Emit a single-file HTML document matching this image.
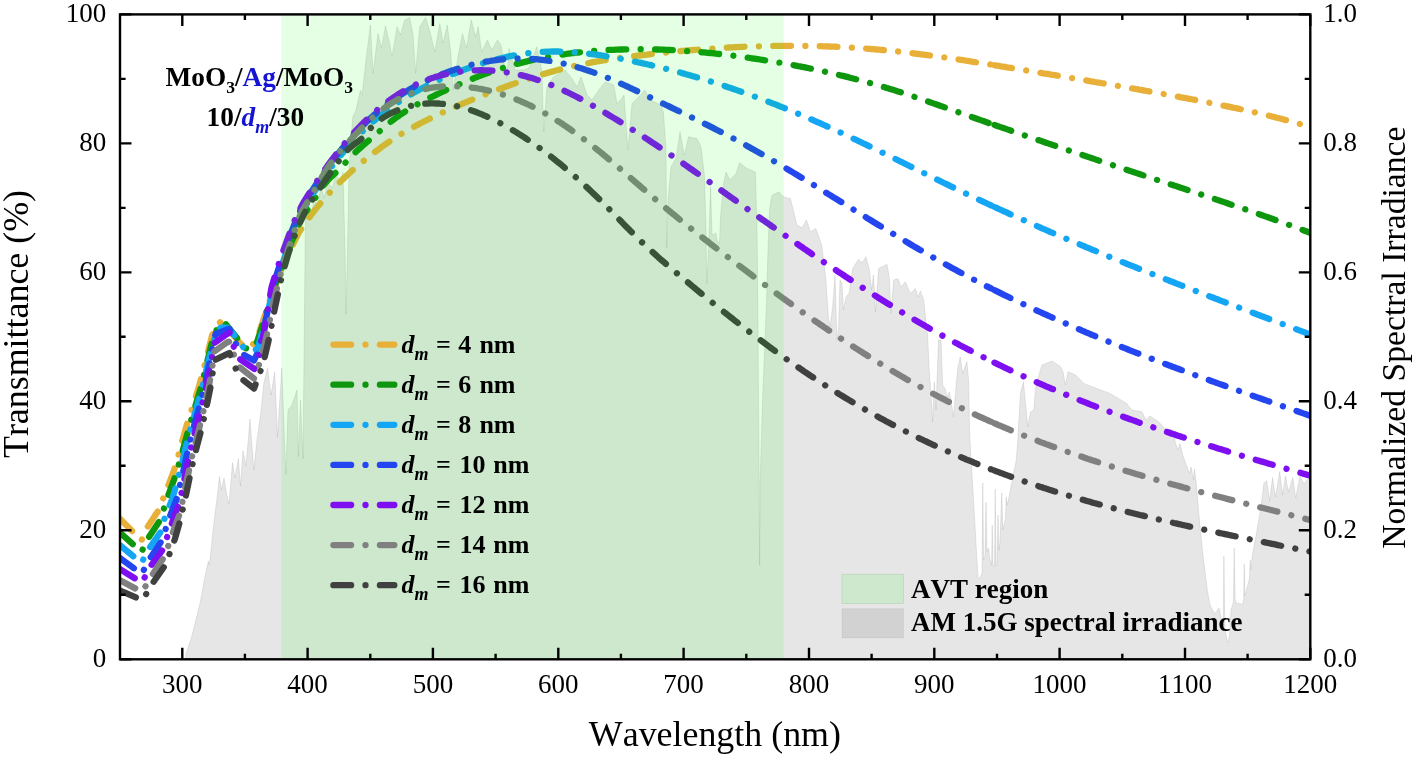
<!DOCTYPE html>
<html><head><meta charset="utf-8"><title>Transmittance spectra</title>
<style>html,body{margin:0;padding:0;background:#fff}svg{display:block}text{font-family:"Liberation Serif",serif;fill:#000;font-kerning:none}</style></head><body>
<svg width="1416" height="760" viewBox="0 0 1416 760">
<rect width="1416" height="760" fill="#fff"/>
<polygon points="185.5,659.3 186.0,654.0 191.8,636.0 199.7,604.8 205.7,573.0 208.4,561.0 209.5,565.0 213.5,525.8 217.5,494.0 219.5,476.5 221.4,490.0 224.0,478.0 226.6,494.0 229.0,504.0 232.5,462.6 235.0,478.0 238.4,458.7 240.4,486.0 243.0,450.8 246.0,466.0 250.0,419.0 253.8,470.0 257.0,440.0 261.0,411.0 263.7,383.7 267.6,368.0 271.0,395.0 274.7,372.0 277.5,437.0 281.8,368.0 285.8,474.5 288.0,410.0 292.0,405.0 297.0,390.0 298.4,456.7 300.5,400.0 303.0,458.7 305.5,212.0 308.0,205.0 311.0,215.0 314.0,200.0 318.0,205.0 321.0,185.0 324.0,198.0 328.0,182.0 332.0,188.0 336.0,175.0 340.0,182.0 343.0,172.0 345.0,250.0 346.0,314.0 347.5,250.0 349.0,170.0 351.0,140.0 352.8,117.0 356.0,110.0 360.4,90.3 362.0,95.0 366.0,60.0 370.4,25.0 373.0,73.5 378.0,33.4 381.5,48.0 385.5,26.0 389.5,43.0 392.0,56.8 397.0,26.7 400.5,35.0 404.7,20.0 409.7,17.5 413.0,35.0 415.6,73.5 419.7,26.7 425.6,17.5 430.0,32.0 434.8,51.8 439.8,23.4 443.0,43.0 447.3,25.0 450.7,51.8 453.2,90.0 457.5,60.0 462.4,33.4 466.5,48.0 471.2,20.0 475.7,37.0 478.2,26.7 481.6,51.8 487.5,40.0 491.7,50.0 497.5,40.0 501.0,45.0 506.7,78.5 509.0,48.4 515.0,70.0 523.4,70.0 529.0,68.0 536.8,46.8 541.8,70.0 543.8,132.0 546.9,87.0 553.5,76.9 565.0,70.0 572.0,78.5 577.0,87.0 581.0,76.8 587.0,95.0 592.0,100.0 598.7,90.0 605.4,81.9 613.7,85.0 617.0,103.6 622.0,98.0 624.0,95.0 628.0,150.0 632.0,103.6 640.5,95.0 644.7,90.0 650.5,100.0 660.6,105.0 663.4,111.7 666.0,150.0 666.7,248.5 668.0,200.0 671.0,167.0 676.0,158.0 680.0,131.8 684.3,155.0 688.5,136.8 696.9,138.5 701.0,146.8 704.4,175.0 706.0,227.0 706.8,283.6 708.5,250.0 710.6,187.0 712.0,235.0 716.0,233.0 717.0,240.0 719.5,243.5 720.5,217.0 723.6,183.6 726.0,172.0 730.0,180.0 736.0,173.6 739.5,162.7 747.0,168.6 755.4,172.0 757.0,227.0 757.8,300.0 758.5,400.0 759.2,480.0 759.6,565.0 760.2,480.0 762.5,400.0 765.0,340.0 766.6,300.0 768.0,250.0 769.6,208.7 772.0,195.3 778.8,192.0 783.8,197.0 790.5,198.7 792.0,205.0 797.0,225.0 802.0,228.0 806.4,220.0 810.5,232.0 815.6,228.4 817.5,233.3 821.7,245.0 825.9,280.0 828.4,317.0 830.0,327.0 832.6,307.0 835.0,275.0 837.0,340.0 838.5,330.0 840.0,280.0 842.0,283.0 843.4,310.0 846.0,297.0 849.3,293.0 852.6,268.5 858.5,259.3 862.0,263.0 866.0,256.8 869.4,270.0 871.5,290.0 873.5,275.0 875.5,312.0 878.6,268.5 887.0,264.3 889.4,278.5 891.0,313.6 893.6,280.0 897.8,278.5 901.0,287.0 905.3,281.8 910.3,293.5 915.4,288.5 918.0,297.0 920.4,291.0 923.7,300.0 926.2,323.6 927.6,335.0 929.3,371.8 931.0,393.5 932.6,422.0 934.3,381.8 936.0,410.0 938.5,340.0 941.0,340.0 942.6,385.0 945.0,388.5 947.0,397.0 949.3,392.0 951.0,400.0 953.5,417.0 956.0,387.0 957.7,368.5 960.2,356.8 962.7,373.5 964.4,368.5 966.9,361.8 968.6,380.0 969.4,423.6 970.0,440.0 973.8,505.0 978.0,578.0 980.0,577.7 982.0,573.5 982.8,483.0 983.6,560.0 985.0,556.0 986.0,502.0 987.0,552.0 988.5,548.0 990.0,560.0 991.6,565.0 992.2,525.0 993.0,566.0 994.5,566.0 995.2,489.0 996.0,566.0 997.0,565.0 998.0,515.0 999.0,550.0 1000.0,541.8 1001.8,493.0 1002.8,530.0 1005.4,518.6 1006.2,497.0 1007.2,505.0 1008.5,499.6 1011.7,482.7 1016.0,461.6 1017.5,445.0 1018.7,423.6 1020.4,393.5 1023.4,381.8 1025.4,402.0 1027.9,427.0 1030.4,412.0 1033.8,410.0 1035.5,388.5 1038.8,375.0 1042.0,365.0 1052.0,361.0 1060.5,366.8 1063.0,371.8 1065.5,385.0 1068.0,371.8 1075.6,375.0 1084.0,383.5 1100.7,390.0 1110.0,393.4 1118.4,398.4 1126.7,403.4 1131.7,410.0 1141.8,411.8 1146.0,420.0 1150.0,416.0 1158.5,421.8 1165.0,428.5 1173.5,430.0 1175.2,441.9 1177.7,450.0 1180.0,443.5 1182.7,455.0 1187.0,467.0 1189.5,473.6 1191.0,467.0 1193.6,480.0 1194.3,469.0 1196.0,480.0 1198.7,512.0 1203.0,555.8 1207.4,590.5 1210.0,605.0 1214.6,613.7 1219.0,608.0 1221.5,620.0 1223.3,625.0 1223.9,556.0 1224.8,628.0 1226.0,634.0 1227.6,642.7 1229.5,636.0 1231.0,610.0 1233.4,602.0 1234.2,548.0 1235.2,600.0 1237.0,604.0 1239.5,603.0 1242.0,605.0 1243.6,600.0 1244.2,564.0 1245.0,596.0 1247.0,588.0 1249.4,579.0 1250.2,560.0 1251.0,570.0 1252.2,555.8 1256.6,532.6 1261.0,506.6 1263.8,483.4 1266.7,480.5 1269.6,500.8 1272.5,477.6 1275.5,497.0 1279.7,471.8 1282.6,495.0 1285.5,476.0 1288.5,492.0 1292.8,477.6 1295.7,498.0 1300.0,476.0 1304.0,484.0 1308.7,477.6 1310.3,480.0 1310.3,480.0 1310.3,659.3" fill="rgba(128,128,128,0.2)" stroke="rgba(128,128,128,0.22)" stroke-width="0.8" stroke-linejoin="round"/>
<clipPath id="pc"><rect x="119.6" y="14.4" width="1190.7" height="644.9"/></clipPath>
<g clip-path="url(#pc)" fill="none" stroke-width="6.3" stroke-linecap="round" stroke-linejoin="round" stroke-dasharray="17.7 14.4 0.01 14.4">
<path d="M991.0,64.6 L989.0,64.3 L987.0,64.0 L985.0,63.7 L983.0,63.3 L981.0,63.0 L979.0,62.7 L977.0,62.4 L975.0,62.1 L973.0,61.8 L971.0,61.4 L969.0,61.1 L967.0,60.8 L965.0,60.5 L963.0,60.2 L961.0,59.9 L959.0,59.6 L957.0,59.3 L955.0,59.0 L953.0,58.7 L951.0,58.4 L949.0,58.1 L947.0,57.8 L945.0,57.5 L943.0,57.2 L941.0,57.0 L939.0,56.7 L937.0,56.4 L935.0,56.1 L933.0,55.8 L931.0,55.6 L929.0,55.3 L927.0,55.0 L925.0,54.8 L923.0,54.5 L921.0,54.3 L919.0,54.0 L917.0,53.8 L915.0,53.5 L913.0,53.3 L911.0,53.0 L909.0,52.8 L907.0,52.6 L905.0,52.3 L903.0,52.1 L901.0,51.9 L899.0,51.6 L897.0,51.4 L895.0,51.2 L893.0,51.0 L891.0,50.8 L889.0,50.6 L887.0,50.4 L885.0,50.2 L883.0,50.0 L881.0,49.8 L879.0,49.6 L877.0,49.5 L875.0,49.3 L873.0,49.1 L871.0,49.0 L869.0,48.8 L867.0,48.7 L865.0,48.5 L863.0,48.4 L861.0,48.2 L859.0,48.1 L857.0,47.9 L855.0,47.8 L853.0,47.7 L851.0,47.6 L849.0,47.4 L847.0,47.3 L845.0,47.2 L843.0,47.1 L841.0,47.0 L839.0,46.9 L837.0,46.8 L835.0,46.7 L833.0,46.7 L831.0,46.6 L829.0,46.5 L827.0,46.4 L825.0,46.4 L823.0,46.3 L821.0,46.2 L819.0,46.2 L817.0,46.1 L815.0,46.1 L813.0,46.0 L811.0,46.0 L809.0,46.0 L807.0,45.9 L805.0,45.9 L803.0,45.9 L801.0,45.8 L799.0,45.8 L797.0,45.8 L795.0,45.8 L793.0,45.8 L791.0,45.8 L789.0,45.8 L787.0,45.8 L785.0,45.8 L783.0,45.8 L781.0,45.8 L779.0,45.9 L777.0,45.9 L775.0,45.9 L773.0,45.9 L771.0,46.0 L769.0,46.0 L767.0,46.1 L765.0,46.1 L763.0,46.1 L761.0,46.2 L759.0,46.3 L757.0,46.3 L755.0,46.4 L753.0,46.4 L751.0,46.5 L749.0,46.6 L747.0,46.7 L745.0,46.7 L743.0,46.8 L741.0,46.9 L739.0,47.0 L737.0,47.1 L735.0,47.2 L733.0,47.3 L731.0,47.4 L729.0,47.5 L727.0,47.6 L725.0,47.7 L723.0,47.8 L721.0,48.0 L719.0,48.1 L717.0,48.2 L715.0,48.3 L713.0,48.5 L711.0,48.6 L709.0,48.8 L707.0,48.9 L705.0,49.0 L703.0,49.2 L701.0,49.3 L699.0,49.5 L697.0,49.7 L695.0,49.8 L693.0,50.0 L691.0,50.1 L689.0,50.3 L687.0,50.5 L685.0,50.7 L683.0,50.8 L681.0,51.0 L679.0,51.2 L677.0,51.4 L675.0,51.6 L673.0,51.8 L671.0,52.0 L669.0,52.2 L667.0,52.4 L665.0,52.6 L663.0,52.8 L661.0,53.0 L659.0,53.2 L657.0,53.4 L655.0,53.6 L653.0,53.9 L651.0,54.1 L649.0,54.3 L647.0,54.6 L645.0,54.8 L643.0,55.0 L641.0,55.3 L639.0,55.5 L637.0,55.7 L635.0,56.0 L633.0,56.2 L631.0,56.5 L629.0,56.7 L627.0,57.0 L625.0,57.3 L623.0,57.5 L621.0,57.8 L619.0,58.1 L617.0,58.4 L615.0,58.6 L613.0,58.9 L611.0,59.2 L609.0,59.5 L607.0,59.8 L605.0,60.2 L603.0,60.5 L601.0,60.8 L599.0,61.2 L597.0,61.5 L595.0,61.8 L593.0,62.2 L591.0,62.6 L589.0,63.0 L587.0,63.3 L585.0,63.7 L583.0,64.1 L581.0,64.5 L579.0,65.0 L577.0,65.4 L575.0,65.8 L573.0,66.3 L571.0,66.8 L569.0,67.2 L567.0,67.7 L565.0,68.2 L563.0,68.7 L561.0,69.2 L559.0,69.7 L557.0,70.3 L555.0,70.8 L553.0,71.4 L551.0,71.9 L549.0,72.5 L547.0,73.1 L545.0,73.6 L543.0,74.2 L541.0,74.8 L539.0,75.5 L537.0,76.1 L535.0,76.7 L533.0,77.3 L531.0,78.0 L529.0,78.6 L527.0,79.3 L525.0,79.9 L523.0,80.6 L521.0,81.3 L519.0,82.0 L517.0,82.7 L515.0,83.4 L513.0,84.1 L511.0,84.8 L509.0,85.5 L507.0,86.2 L505.0,87.0 L503.0,87.7 L501.0,88.4 L499.0,89.2 L497.0,89.9 L495.0,90.7 L493.0,91.5 L491.0,92.2 L489.0,93.0 L487.0,93.8 L485.0,94.6 L483.0,95.4 L481.0,96.1 L479.0,96.9 L477.0,97.7 L475.0,98.6 L473.0,99.4 L471.0,100.2 L469.0,101.0 L467.0,101.9 L465.0,102.7 L463.0,103.5 L461.0,104.4 L459.0,105.2 L457.0,106.1 L455.0,107.0 L453.0,107.9 L451.0,108.7 L449.0,109.6 L447.0,110.5 L445.0,111.4 L443.0,112.4 L441.0,113.3 L439.0,114.2 L437.0,115.2 L435.0,116.1 L433.0,117.1 L431.0,118.0 L429.0,119.0 L427.0,120.0 L425.0,121.0 L423.0,122.0 L421.0,123.0 L419.0,124.1 L417.0,125.1 L415.0,126.2 L413.0,127.3 L411.0,128.4 L409.0,129.5 L407.0,130.6 L405.0,131.8 L403.0,132.9 L401.0,134.1 L399.0,135.4 L397.0,136.6 L395.0,137.9 L393.0,139.2 L391.0,140.5 L389.0,141.8 L387.0,143.2 L385.0,144.6 L383.0,146.0 L381.0,147.4 L379.0,148.9 L377.0,150.4 L375.0,151.9 L373.0,153.4 L371.0,155.0 L369.0,156.6 L367.0,158.2 L365.0,159.8 L363.0,161.4 L361.0,163.1 L359.0,164.8 L357.0,166.5 L355.0,168.2 L353.0,169.9 L351.0,171.7 L349.0,173.5 L347.0,175.3 L345.0,177.2 L343.0,179.1 L341.0,181.0 L339.0,183.0 L337.0,185.0 L335.0,187.0 L333.0,189.1 L331.0,191.2 L329.0,193.4 L327.0,195.6 L325.0,197.9 L323.0,200.2 L321.0,202.5 L319.0,204.9 L317.0,207.4 L315.0,209.9 L313.0,212.5 L311.0,215.1 L309.0,217.8 L307.0,220.6 L305.0,223.4 L303.0,226.2 L301.0,229.2 L300.0,230.7" stroke="#E8B038" stroke-dashoffset="31.34"/>
<path d="M119.6,518.5 L141.5,540.5 L146.8,528.0 L158.7,510.0 L163.0,499.0 L168.5,485.0 L173.5,472.0 L178.5,455.0 L182.5,440.0 L187.0,424.0 L191.5,410.0 L198.7,387.5 L206.0,360.0 L211.8,336.4 L216.0,326.0 L220.3,322.0 L226.0,327.0 L233.0,335.0 L241.0,344.0 L247.0,349.0 L252.0,346.0 L258.0,336.0 L264.0,318.0 L270.0,300.0 L276.0,284.0 L282.0,268.0 L287.0,256.0 L292.0,246.5 L299.0,232.2 L300.0,230.7" stroke="#E8B038"/>
<path d="M994.5,65.2 L995.0,65.3 L997.0,65.6 L999.0,65.9 L1001.0,66.3 L1003.0,66.6 L1005.0,66.9 L1007.0,67.3 L1009.0,67.6 L1011.0,67.9 L1013.0,68.3 L1015.0,68.6 L1017.0,68.9 L1019.0,69.3 L1021.0,69.6 L1023.0,69.9 L1025.0,70.3 L1027.0,70.6 L1029.0,70.9 L1031.0,71.3 L1033.0,71.6 L1035.0,71.9 L1037.0,72.3 L1039.0,72.6 L1041.0,72.9 L1043.0,73.3 L1045.0,73.6 L1047.0,73.9 L1049.0,74.2 L1051.0,74.6 L1053.0,74.9 L1055.0,75.2 L1057.0,75.6 L1059.0,75.9 L1061.0,76.2 L1063.0,76.6 L1065.0,76.9 L1067.0,77.3 L1069.0,77.6 L1071.0,77.9 L1073.0,78.3 L1075.0,78.6 L1077.0,78.9 L1079.0,79.3 L1081.0,79.6 L1083.0,79.9 L1085.0,80.3 L1087.0,80.6 L1089.0,80.9 L1091.0,81.3 L1093.0,81.6 L1095.0,82.0 L1097.0,82.3 L1099.0,82.6 L1101.0,83.0 L1103.0,83.3 L1105.0,83.7 L1107.0,84.0 L1109.0,84.4 L1111.0,84.7 L1113.0,85.0 L1115.0,85.4 L1117.0,85.7 L1119.0,86.1 L1121.0,86.4 L1123.0,86.8 L1125.0,87.1 L1127.0,87.5 L1129.0,87.8 L1131.0,88.2 L1133.0,88.5 L1135.0,88.9 L1137.0,89.2 L1139.0,89.6 L1141.0,89.9 L1143.0,90.3 L1145.0,90.7 L1147.0,91.0 L1149.0,91.4 L1151.0,91.7 L1153.0,92.1 L1155.0,92.5 L1157.0,92.8 L1159.0,93.2 L1161.0,93.5 L1163.0,93.9 L1165.0,94.3 L1167.0,94.6 L1169.0,95.0 L1171.0,95.4 L1173.0,95.8 L1175.0,96.1 L1177.0,96.5 L1179.0,96.9 L1181.0,97.3 L1183.0,97.6 L1185.0,98.0 L1187.0,98.4 L1189.0,98.8 L1191.0,99.2 L1193.0,99.5 L1195.0,99.9 L1197.0,100.3 L1199.0,100.7 L1201.0,101.1 L1203.0,101.5 L1205.0,101.9 L1207.0,102.3 L1209.0,102.7 L1211.0,103.1 L1213.0,103.5 L1215.0,103.9 L1217.0,104.3 L1219.0,104.7 L1221.0,105.1 L1223.0,105.5 L1225.0,105.9 L1227.0,106.3 L1229.0,106.7 L1231.0,107.1 L1233.0,107.6 L1235.0,108.0 L1237.0,108.4 L1239.0,108.8 L1241.0,109.3 L1243.0,109.7 L1245.0,110.2 L1247.0,110.6 L1249.0,111.0 L1251.0,111.5 L1253.0,111.9 L1255.0,112.4 L1257.0,112.9 L1259.0,113.3 L1261.0,113.8 L1263.0,114.3 L1265.0,114.8 L1267.0,115.3 L1269.0,115.7 L1271.0,116.2 L1273.0,116.7 L1275.0,117.2 L1277.0,117.8 L1279.0,118.3 L1281.0,118.8 L1283.0,119.3 L1285.0,119.9 L1287.0,120.4 L1289.0,120.9 L1291.0,121.5 L1293.0,122.0 L1295.0,122.6 L1297.0,123.2 L1299.0,123.8 L1301.0,124.3 L1303.0,124.9 L1305.0,125.5 L1307.0,126.1 L1309.0,126.7 L1310.3,127.1" stroke="#E8B038"/>
<path d="M991.0,123.7 L990.0,123.4 L988.0,122.7 L986.0,122.0 L984.0,121.3 L982.0,120.6 L980.0,119.9 L978.0,119.2 L976.0,118.5 L974.0,117.8 L972.0,117.1 L970.0,116.4 L968.0,115.6 L966.0,114.9 L964.0,114.2 L962.0,113.5 L960.0,112.8 L958.0,112.1 L956.0,111.4 L954.0,110.7 L952.0,110.0 L950.0,109.3 L948.0,108.6 L946.0,107.8 L944.0,107.1 L942.0,106.4 L940.0,105.7 L938.0,105.0 L936.0,104.3 L934.0,103.6 L932.0,102.9 L930.0,102.2 L928.0,101.5 L926.0,100.8 L924.0,100.1 L922.0,99.4 L920.0,98.7 L918.0,98.0 L916.0,97.4 L914.0,96.7 L912.0,96.0 L910.0,95.3 L908.0,94.7 L906.0,94.0 L904.0,93.3 L902.0,92.7 L900.0,92.0 L898.0,91.4 L896.0,90.8 L894.0,90.1 L892.0,89.5 L890.0,88.9 L888.0,88.3 L886.0,87.7 L884.0,87.1 L882.0,86.5 L880.0,85.9 L878.0,85.3 L876.0,84.7 L874.0,84.1 L872.0,83.6 L870.0,83.0 L868.0,82.4 L866.0,81.9 L864.0,81.3 L862.0,80.8 L860.0,80.3 L858.0,79.7 L856.0,79.2 L854.0,78.7 L852.0,78.2 L850.0,77.7 L848.0,77.1 L846.0,76.6 L844.0,76.1 L842.0,75.7 L840.0,75.2 L838.0,74.7 L836.0,74.2 L834.0,73.7 L832.0,73.3 L830.0,72.8 L828.0,72.4 L826.0,71.9 L824.0,71.5 L822.0,71.0 L820.0,70.6 L818.0,70.1 L816.0,69.7 L814.0,69.3 L812.0,68.9 L810.0,68.5 L808.0,68.0 L806.0,67.6 L804.0,67.2 L802.0,66.8 L800.0,66.4 L798.0,66.1 L796.0,65.7 L794.0,65.3 L792.0,64.9 L790.0,64.5 L788.0,64.2 L786.0,63.8 L784.0,63.5 L782.0,63.1 L780.0,62.7 L778.0,62.4 L776.0,62.1 L774.0,61.7 L772.0,61.4 L770.0,61.1 L768.0,60.7 L766.0,60.4 L764.0,60.1 L762.0,59.8 L760.0,59.5 L758.0,59.2 L756.0,58.9 L754.0,58.6 L752.0,58.3 L750.0,58.0 L748.0,57.7 L746.0,57.4 L744.0,57.1 L742.0,56.8 L740.0,56.6 L738.0,56.3 L736.0,56.0 L734.0,55.8 L732.0,55.5 L730.0,55.3 L728.0,55.0 L726.0,54.8 L724.0,54.6 L722.0,54.3 L720.0,54.1 L718.0,53.9 L716.0,53.7 L714.0,53.4 L712.0,53.2 L710.0,53.0 L708.0,52.8 L706.0,52.6 L704.0,52.4 L702.0,52.3 L700.0,52.1 L698.0,51.9 L696.0,51.7 L694.0,51.6 L692.0,51.4 L690.0,51.2 L688.0,51.1 L686.0,51.0 L684.0,50.8 L682.0,50.7 L680.0,50.6 L678.0,50.4 L676.0,50.3 L674.0,50.2 L672.0,50.1 L670.0,50.0 L668.0,49.9 L666.0,49.8 L664.0,49.7 L662.0,49.7 L660.0,49.6 L658.0,49.5 L656.0,49.5 L654.0,49.4 L652.0,49.4 L650.0,49.3 L648.0,49.3 L646.0,49.3 L644.0,49.3 L642.0,49.2 L640.0,49.2 L638.0,49.2 L636.0,49.2 L634.0,49.3 L632.0,49.3 L630.0,49.3 L628.0,49.3 L626.0,49.4 L624.0,49.4 L622.0,49.5 L620.0,49.5 L618.0,49.6 L616.0,49.7 L614.0,49.8 L612.0,49.8 L610.0,49.9 L608.0,50.0 L606.0,50.2 L604.0,50.3 L602.0,50.4 L600.0,50.5 L598.0,50.7 L596.0,50.8 L594.0,51.0 L592.0,51.1 L590.0,51.3 L588.0,51.5 L586.0,51.7 L584.0,51.9 L582.0,52.1 L580.0,52.3 L578.0,52.5 L576.0,52.7 L574.0,53.0 L572.0,53.2 L570.0,53.5 L568.0,53.7 L566.0,54.0 L564.0,54.3 L562.0,54.6 L560.0,54.9 L558.0,55.2 L556.0,55.5 L554.0,55.8 L552.0,56.2 L550.0,56.5 L548.0,56.9 L546.0,57.3 L544.0,57.6 L542.0,58.0 L540.0,58.4 L538.0,58.9 L536.0,59.3 L534.0,59.7 L532.0,60.2 L530.0,60.6 L528.0,61.1 L526.0,61.6 L524.0,62.1 L522.0,62.6 L520.0,63.1 L518.0,63.6 L516.0,64.1 L514.0,64.7 L512.0,65.3 L510.0,65.8 L508.0,66.4 L506.0,67.0 L504.0,67.6 L502.0,68.3 L500.0,68.9 L498.0,69.5 L496.0,70.2 L494.0,70.9 L492.0,71.5 L490.0,72.2 L488.0,72.9 L486.0,73.7 L484.0,74.4 L482.0,75.1 L480.0,75.9 L478.0,76.6 L476.0,77.4 L474.0,78.2 L472.0,79.0 L470.0,79.8 L468.0,80.6 L466.0,81.4 L464.0,82.2 L462.0,83.1 L460.0,83.9 L458.0,84.8 L456.0,85.6 L454.0,86.5 L452.0,87.4 L450.0,88.3 L448.0,89.2 L446.0,90.1 L444.0,91.1 L442.0,92.0 L440.0,93.0 L438.0,93.9 L436.0,94.9 L434.0,95.9 L432.0,96.8 L430.0,97.8 L428.0,98.8 L426.0,99.8 L424.0,100.9 L422.0,101.9 L420.0,103.0 L418.0,104.0 L416.0,105.1 L414.0,106.2 L412.0,107.4 L410.0,108.6 L408.0,109.8 L406.0,111.0 L404.0,112.3 L402.0,113.6 L400.0,114.9 L398.0,116.3 L396.0,117.7 L394.0,119.2 L392.0,120.8 L390.0,122.3 L388.0,124.0 L386.0,125.6 L384.0,127.4 L382.0,129.1 L380.0,130.9 L378.0,132.6 L376.0,134.3 L374.0,136.0 L372.0,137.7 L370.0,139.4 L368.0,141.1 L366.0,142.8 L364.0,144.5 L362.0,146.3 L360.0,148.1 L358.0,149.9 L356.0,151.8 L354.0,153.8 L352.0,155.8 L350.0,157.9 L348.0,160.0 L346.0,162.1 L344.0,164.2 L342.0,166.3 L340.0,168.4 L338.0,170.4 L336.0,172.3 L334.0,174.2 L332.0,176.1 L330.0,178.1 L328.0,180.1 L326.0,182.3 L324.0,184.7 L322.0,187.3 L320.0,190.3 L318.0,193.4 L316.0,196.7 L314.0,200.0 L312.0,203.2 L310.0,206.2 L308.0,209.0 L306.0,211.5 L304.0,213.5 L302.0,215.0 L300.0,220.6" stroke="#0E960E" stroke-dashoffset="44.00"/>
<path d="M119.6,532.3 L141.5,552.0 L147.6,539.0 L159.6,521.0 L163.5,510.0 L167.0,499.0 L169.5,492.0 L171.7,486.0 L173.9,480.0 L176.0,474.0 L177.8,468.0 L179.5,462.0 L181.3,456.0 L182.9,450.0 L184.5,444.0 L186.1,438.0 L187.8,432.0 L189.4,426.0 L191.2,420.0 L193.0,414.0 L194.8,408.0 L196.6,402.0 L198.4,396.0 L200.2,390.0 L201.8,384.0 L203.3,378.0 L204.7,372.0 L206.2,366.0 L213.0,338.0 L218.0,327.0 L224.0,322.0 L232.5,332.5 L237.5,338.7 L243.0,347.5 L250.0,349.5 L256.0,345.0 L261.0,330.0 L266.0,313.0 L271.0,297.0 L276.5,281.0 L282.0,266.0 L287.0,253.5 L292.0,241.0 L297.0,229.0 L300.0,220.6" stroke="#0E960E"/>
<path d="M994.5,124.9 L996.0,125.5 L998.0,126.2 L1000.0,126.9 L1002.0,127.6 L1004.0,128.2 L1006.0,128.9 L1008.0,129.6 L1010.0,130.3 L1012.0,131.0 L1014.0,131.7 L1016.0,132.4 L1018.0,133.1 L1020.0,133.8 L1022.0,134.5 L1024.0,135.2 L1026.0,135.8 L1028.0,136.5 L1030.0,137.2 L1032.0,137.9 L1034.0,138.6 L1036.0,139.3 L1038.0,140.0 L1040.0,140.6 L1042.0,141.3 L1044.0,142.0 L1046.0,142.7 L1048.0,143.4 L1050.0,144.1 L1052.0,144.7 L1054.0,145.4 L1056.0,146.1 L1058.0,146.8 L1060.0,147.4 L1062.0,148.1 L1064.0,148.8 L1066.0,149.5 L1068.0,150.2 L1070.0,150.8 L1072.0,151.5 L1074.0,152.2 L1076.0,152.9 L1078.0,153.5 L1080.0,154.2 L1082.0,154.9 L1084.0,155.6 L1086.0,156.2 L1088.0,156.9 L1090.0,157.6 L1092.0,158.2 L1094.0,158.9 L1096.0,159.6 L1098.0,160.3 L1100.0,160.9 L1102.0,161.6 L1104.0,162.3 L1106.0,162.9 L1108.0,163.6 L1110.0,164.3 L1112.0,164.9 L1114.0,165.6 L1116.0,166.3 L1118.0,166.9 L1120.0,167.6 L1122.0,168.3 L1124.0,168.9 L1126.0,169.6 L1128.0,170.3 L1130.0,170.9 L1132.0,171.6 L1134.0,172.2 L1136.0,172.9 L1138.0,173.6 L1140.0,174.2 L1142.0,174.9 L1144.0,175.6 L1146.0,176.2 L1148.0,176.9 L1150.0,177.6 L1152.0,178.2 L1154.0,178.9 L1156.0,179.5 L1158.0,180.2 L1160.0,180.9 L1162.0,181.5 L1164.0,182.2 L1166.0,182.8 L1168.0,183.5 L1170.0,184.2 L1172.0,184.8 L1174.0,185.5 L1176.0,186.1 L1178.0,186.8 L1180.0,187.5 L1182.0,188.1 L1184.0,188.8 L1186.0,189.4 L1188.0,190.1 L1190.0,190.8 L1192.0,191.4 L1194.0,192.1 L1196.0,192.8 L1198.0,193.4 L1200.0,194.1 L1202.0,194.8 L1204.0,195.4 L1206.0,196.1 L1208.0,196.8 L1210.0,197.4 L1212.0,198.1 L1214.0,198.8 L1216.0,199.4 L1218.0,200.1 L1220.0,200.8 L1222.0,201.4 L1224.0,202.1 L1226.0,202.8 L1228.0,203.5 L1230.0,204.2 L1232.0,204.8 L1234.0,205.5 L1236.0,206.2 L1238.0,206.9 L1240.0,207.6 L1242.0,208.3 L1244.0,208.9 L1246.0,209.6 L1248.0,210.3 L1250.0,211.0 L1252.0,211.7 L1254.0,212.4 L1256.0,213.1 L1258.0,213.8 L1260.0,214.5 L1262.0,215.2 L1264.0,215.9 L1266.0,216.6 L1268.0,217.3 L1270.0,218.0 L1272.0,218.7 L1274.0,219.5 L1276.0,220.2 L1278.0,220.9 L1280.0,221.6 L1282.0,222.3 L1284.0,223.1 L1286.0,223.8 L1288.0,224.5 L1290.0,225.3 L1292.0,226.0 L1294.0,226.7 L1296.0,227.5 L1298.0,228.2 L1300.0,229.0 L1302.0,229.7 L1304.0,230.5 L1306.0,231.2 L1308.0,232.0 L1310.0,232.7 L1310.3,232.8" stroke="#0E960E"/>
<path d="M991.0,205.4 L990.0,204.9 L988.0,204.0 L986.0,203.0 L984.0,202.1 L982.0,201.2 L980.0,200.2 L978.0,199.3 L976.0,198.3 L974.0,197.4 L972.0,196.4 L970.0,195.5 L968.0,194.5 L966.0,193.6 L964.0,192.6 L962.0,191.7 L960.0,190.7 L958.0,189.8 L956.0,188.8 L954.0,187.8 L952.0,186.8 L950.0,185.9 L948.0,184.9 L946.0,183.9 L944.0,183.0 L942.0,182.0 L940.0,181.0 L938.0,180.0 L936.0,179.0 L934.0,178.0 L932.0,177.1 L930.0,176.1 L928.0,175.1 L926.0,174.1 L924.0,173.1 L922.0,172.1 L920.0,171.1 L918.0,170.2 L916.0,169.2 L914.0,168.2 L912.0,167.2 L910.0,166.2 L908.0,165.2 L906.0,164.2 L904.0,163.2 L902.0,162.2 L900.0,161.3 L898.0,160.3 L896.0,159.3 L894.0,158.3 L892.0,157.3 L890.0,156.3 L888.0,155.3 L886.0,154.4 L884.0,153.4 L882.0,152.4 L880.0,151.4 L878.0,150.4 L876.0,149.5 L874.0,148.5 L872.0,147.5 L870.0,146.6 L868.0,145.6 L866.0,144.6 L864.0,143.7 L862.0,142.7 L860.0,141.7 L858.0,140.8 L856.0,139.8 L854.0,138.9 L852.0,137.9 L850.0,137.0 L848.0,136.1 L846.0,135.1 L844.0,134.2 L842.0,133.2 L840.0,132.3 L838.0,131.4 L836.0,130.5 L834.0,129.5 L832.0,128.6 L830.0,127.7 L828.0,126.8 L826.0,125.9 L824.0,125.0 L822.0,124.1 L820.0,123.2 L818.0,122.3 L816.0,121.5 L814.0,120.6 L812.0,119.7 L810.0,118.8 L808.0,118.0 L806.0,117.1 L804.0,116.2 L802.0,115.4 L800.0,114.5 L798.0,113.7 L796.0,112.9 L794.0,112.0 L792.0,111.2 L790.0,110.4 L788.0,109.6 L786.0,108.7 L784.0,107.9 L782.0,107.1 L780.0,106.3 L778.0,105.5 L776.0,104.7 L774.0,103.9 L772.0,103.2 L770.0,102.4 L768.0,101.6 L766.0,100.8 L764.0,100.1 L762.0,99.3 L760.0,98.6 L758.0,97.8 L756.0,97.1 L754.0,96.3 L752.0,95.6 L750.0,94.9 L748.0,94.1 L746.0,93.4 L744.0,92.7 L742.0,92.0 L740.0,91.3 L738.0,90.6 L736.0,89.9 L734.0,89.2 L732.0,88.5 L730.0,87.8 L728.0,87.2 L726.0,86.5 L724.0,85.8 L722.0,85.2 L720.0,84.5 L718.0,83.9 L716.0,83.2 L714.0,82.6 L712.0,81.9 L710.0,81.3 L708.0,80.7 L706.0,80.1 L704.0,79.5 L702.0,78.8 L700.0,78.2 L698.0,77.6 L696.0,77.1 L694.0,76.5 L692.0,75.9 L690.0,75.3 L688.0,74.7 L686.0,74.2 L684.0,73.6 L682.0,73.1 L680.0,72.5 L678.0,72.0 L676.0,71.4 L674.0,70.9 L672.0,70.4 L670.0,69.8 L668.0,69.3 L666.0,68.8 L664.0,68.3 L662.0,67.8 L660.0,67.3 L658.0,66.8 L656.0,66.3 L654.0,65.9 L652.0,65.4 L650.0,64.9 L648.0,64.5 L646.0,64.0 L644.0,63.6 L642.0,63.1 L640.0,62.7 L638.0,62.3 L636.0,61.8 L634.0,61.4 L632.0,61.0 L630.0,60.6 L628.0,60.2 L626.0,59.8 L624.0,59.4 L622.0,59.0 L620.0,58.6 L618.0,58.3 L616.0,57.9 L614.0,57.5 L612.0,57.2 L610.0,56.8 L608.0,56.5 L606.0,56.2 L604.0,55.8 L602.0,55.5 L600.0,55.2 L598.0,54.9 L596.0,54.6 L594.0,54.4 L592.0,54.1 L590.0,53.9 L588.0,53.6 L586.0,53.4 L584.0,53.2 L582.0,53.0 L580.0,52.8 L578.0,52.6 L576.0,52.4 L574.0,52.3 L572.0,52.1 L570.0,52.0 L568.0,51.9 L566.0,51.8 L564.0,51.7 L562.0,51.6 L560.0,51.6 L558.0,51.5 L556.0,51.5 L554.0,51.5 L552.0,51.5 L550.0,51.6 L548.0,51.6 L546.0,51.7 L544.0,51.8 L542.0,51.9 L540.0,52.0 L538.0,52.2 L536.0,52.3 L534.0,52.5 L532.0,52.7 L530.0,53.0 L528.0,53.2 L526.0,53.5 L524.0,53.7 L522.0,54.0 L520.0,54.4 L518.0,54.7 L516.0,55.0 L514.0,55.4 L512.0,55.8 L510.0,56.2 L508.0,56.6 L506.0,57.1 L504.0,57.5 L502.0,58.0 L500.0,58.5 L498.0,59.0 L496.0,59.5 L494.0,60.0 L492.0,60.6 L490.0,61.1 L488.0,61.7 L486.0,62.3 L484.0,62.9 L482.0,63.5 L480.0,64.2 L478.0,64.8 L476.0,65.5 L474.0,66.2 L472.0,66.8 L470.0,67.5 L468.0,68.3 L466.0,69.0 L464.0,69.7 L462.0,70.5 L460.0,71.3 L458.0,72.0 L456.0,72.8 L454.0,73.6 L452.0,74.4 L450.0,75.3 L448.0,76.1 L446.0,76.9 L444.0,77.8 L442.0,78.7 L440.0,79.5 L438.0,80.4 L436.0,81.4 L434.0,82.3 L432.0,83.2 L430.0,84.2 L428.0,85.2 L426.0,86.2 L424.0,87.2 L422.0,88.2 L420.0,89.3 L418.0,90.4 L416.0,91.5 L414.0,92.6 L412.0,93.7 L410.0,94.9 L408.0,96.1 L406.0,97.3 L404.0,98.6 L402.0,99.9 L400.0,101.1 L398.0,102.5 L396.0,103.8 L394.0,105.2 L392.0,106.6 L390.0,108.1 L388.0,109.6 L386.0,111.1 L384.0,112.6 L382.0,114.2 L380.0,115.8 L378.0,117.4 L376.0,119.1 L374.0,120.8 L372.0,122.6 L370.0,124.4 L368.0,126.2 L366.0,128.0 L364.0,129.9 L362.0,131.9 L360.0,133.9 L358.0,135.9 L356.0,138.0 L354.0,140.1 L352.0,142.2 L350.0,144.4 L348.0,146.7 L346.0,149.0 L344.0,151.3 L342.0,153.7 L340.0,156.1 L338.0,158.6 L336.0,161.1 L334.0,163.7 L332.0,166.3 L330.0,169.0 L328.0,171.7 L326.0,174.5 L324.0,177.3 L322.0,180.2 L320.0,183.1 L318.0,186.1 L316.0,189.2 L314.0,192.3 L312.0,195.4 L310.0,198.6 L308.0,201.9 L306.0,205.2 L304.0,208.6 L302.0,212.1 L300.0,216.9" stroke="#14A5F5" stroke-dashoffset="4.52"/>
<path d="M119.6,545.0 L141.5,563.0 L148.5,549.3 L160.5,532.2 L164.0,520.0 L169.4,506.0 L172.3,499.0 L174.2,492.0 L175.9,486.0 L177.6,480.0 L179.3,474.0 L180.8,468.0 L182.3,462.0 L183.7,456.0 L185.1,450.0 L186.5,444.0 L188.0,438.0 L189.7,432.0 L191.3,426.0 L193.0,420.0 L194.8,414.0 L196.5,408.0 L198.2,402.0 L199.9,396.0 L201.6,390.0 L203.1,384.0 L204.5,378.0 L205.9,372.0 L207.3,366.0 L214.0,340.0 L217.0,329.0 L222.0,327.5 L228.0,328.0 L234.0,335.0 L240.0,343.0 L245.0,349.4 L252.0,351.0 L257.5,349.0 L262.0,333.0 L266.5,316.0 L271.0,299.0 L275.5,284.0 L280.0,271.0 L285.0,256.0 L290.0,242.0 L295.0,229.0 L300.0,216.9" stroke="#14A5F5"/>
<path d="M994.5,207.0 L996.0,207.7 L998.0,208.6 L1000.0,209.5 L1002.0,210.4 L1004.0,211.3 L1006.0,212.2 L1008.0,213.1 L1010.0,214.1 L1012.0,215.0 L1014.0,215.9 L1016.0,216.8 L1018.0,217.7 L1020.0,218.6 L1022.0,219.4 L1024.0,220.3 L1026.0,221.2 L1028.0,222.1 L1030.0,223.0 L1032.0,223.9 L1034.0,224.8 L1036.0,225.6 L1038.0,226.5 L1040.0,227.4 L1042.0,228.3 L1044.0,229.1 L1046.0,230.0 L1048.0,230.9 L1050.0,231.8 L1052.0,232.6 L1054.0,233.5 L1056.0,234.3 L1058.0,235.2 L1060.0,236.1 L1062.0,236.9 L1064.0,237.8 L1066.0,238.6 L1068.0,239.5 L1070.0,240.3 L1072.0,241.2 L1074.0,242.0 L1076.0,242.9 L1078.0,243.7 L1080.0,244.5 L1082.0,245.4 L1084.0,246.2 L1086.0,247.1 L1088.0,247.9 L1090.0,248.7 L1092.0,249.6 L1094.0,250.4 L1096.0,251.2 L1098.0,252.0 L1100.0,252.9 L1102.0,253.7 L1104.0,254.5 L1106.0,255.3 L1108.0,256.2 L1110.0,257.0 L1112.0,257.8 L1114.0,258.6 L1116.0,259.4 L1118.0,260.2 L1120.0,261.0 L1122.0,261.9 L1124.0,262.7 L1126.0,263.5 L1128.0,264.3 L1130.0,265.1 L1132.0,265.9 L1134.0,266.7 L1136.0,267.5 L1138.0,268.3 L1140.0,269.1 L1142.0,269.9 L1144.0,270.7 L1146.0,271.5 L1148.0,272.3 L1150.0,273.1 L1152.0,273.9 L1154.0,274.7 L1156.0,275.5 L1158.0,276.2 L1160.0,277.0 L1162.0,277.8 L1164.0,278.6 L1166.0,279.4 L1168.0,280.2 L1170.0,281.0 L1172.0,281.7 L1174.0,282.5 L1176.0,283.3 L1178.0,284.1 L1180.0,284.9 L1182.0,285.6 L1184.0,286.4 L1186.0,287.2 L1188.0,288.0 L1190.0,288.8 L1192.0,289.5 L1194.0,290.3 L1196.0,291.1 L1198.0,291.8 L1200.0,292.6 L1202.0,293.4 L1204.0,294.2 L1206.0,294.9 L1208.0,295.7 L1210.0,296.5 L1212.0,297.2 L1214.0,298.0 L1216.0,298.8 L1218.0,299.5 L1220.0,300.3 L1222.0,301.1 L1224.0,301.8 L1226.0,302.6 L1228.0,303.4 L1230.0,304.1 L1232.0,304.9 L1234.0,305.6 L1236.0,306.4 L1238.0,307.2 L1240.0,307.9 L1242.0,308.7 L1244.0,309.4 L1246.0,310.2 L1248.0,311.0 L1250.0,311.7 L1252.0,312.5 L1254.0,313.2 L1256.0,314.0 L1258.0,314.8 L1260.0,315.5 L1262.0,316.3 L1264.0,317.0 L1266.0,317.8 L1268.0,318.5 L1270.0,319.3 L1272.0,320.1 L1274.0,320.8 L1276.0,321.6 L1278.0,322.3 L1280.0,323.1 L1282.0,323.8 L1284.0,324.6 L1286.0,325.3 L1288.0,326.1 L1290.0,326.9 L1292.0,327.6 L1294.0,328.4 L1296.0,329.1 L1298.0,329.9 L1300.0,330.6 L1302.0,331.4 L1304.0,332.1 L1306.0,332.9 L1308.0,333.7 L1310.0,334.4 L1310.3,334.5" stroke="#14A5F5"/>
<path d="M991.0,288.4 L990.0,287.9 L988.0,286.9 L986.0,285.9 L984.0,284.8 L982.0,283.8 L980.0,282.8 L978.0,281.7 L976.0,280.7 L974.0,279.7 L972.0,278.6 L970.0,277.6 L968.0,276.5 L966.0,275.5 L964.0,274.4 L962.0,273.3 L960.0,272.3 L958.0,271.2 L956.0,270.1 L954.0,269.0 L952.0,267.9 L950.0,266.8 L948.0,265.7 L946.0,264.6 L944.0,263.5 L942.0,262.4 L940.0,261.3 L938.0,260.2 L936.0,259.0 L934.0,257.9 L932.0,256.8 L930.0,255.6 L928.0,254.5 L926.0,253.3 L924.0,252.2 L922.0,251.0 L920.0,249.9 L918.0,248.7 L916.0,247.5 L914.0,246.4 L912.0,245.2 L910.0,244.0 L908.0,242.8 L906.0,241.6 L904.0,240.4 L902.0,239.2 L900.0,238.0 L898.0,236.8 L896.0,235.6 L894.0,234.4 L892.0,233.2 L890.0,232.0 L888.0,230.8 L886.0,229.6 L884.0,228.4 L882.0,227.2 L880.0,225.9 L878.0,224.7 L876.0,223.5 L874.0,222.3 L872.0,221.0 L870.0,219.8 L868.0,218.6 L866.0,217.3 L864.0,216.1 L862.0,214.9 L860.0,213.6 L858.0,212.4 L856.0,211.2 L854.0,209.9 L852.0,208.7 L850.0,207.5 L848.0,206.2 L846.0,205.0 L844.0,203.7 L842.0,202.5 L840.0,201.3 L838.0,200.0 L836.0,198.8 L834.0,197.6 L832.0,196.3 L830.0,195.1 L828.0,193.9 L826.0,192.6 L824.0,191.4 L822.0,190.2 L820.0,188.9 L818.0,187.7 L816.0,186.5 L814.0,185.2 L812.0,184.0 L810.0,182.8 L808.0,181.6 L806.0,180.4 L804.0,179.2 L802.0,177.9 L800.0,176.7 L798.0,175.5 L796.0,174.3 L794.0,173.1 L792.0,171.9 L790.0,170.7 L788.0,169.5 L786.0,168.3 L784.0,167.1 L782.0,166.0 L780.0,164.8 L778.0,163.6 L776.0,162.4 L774.0,161.3 L772.0,160.1 L770.0,158.9 L768.0,157.8 L766.0,156.6 L764.0,155.5 L762.0,154.3 L760.0,153.2 L758.0,152.1 L756.0,150.9 L754.0,149.8 L752.0,148.7 L750.0,147.6 L748.0,146.5 L746.0,145.3 L744.0,144.2 L742.0,143.2 L740.0,142.1 L738.0,141.0 L736.0,139.9 L734.0,138.8 L732.0,137.8 L730.0,136.7 L728.0,135.7 L726.0,134.6 L724.0,133.6 L722.0,132.5 L720.0,131.5 L718.0,130.5 L716.0,129.5 L714.0,128.4 L712.0,127.4 L710.0,126.4 L708.0,125.4 L706.0,124.4 L704.0,123.4 L702.0,122.4 L700.0,121.4 L698.0,120.4 L696.0,119.5 L694.0,118.5 L692.0,117.5 L690.0,116.5 L688.0,115.6 L686.0,114.6 L684.0,113.6 L682.0,112.7 L680.0,111.7 L678.0,110.7 L676.0,109.8 L674.0,108.8 L672.0,107.9 L670.0,106.9 L668.0,105.9 L666.0,105.0 L664.0,104.0 L662.0,103.1 L660.0,102.1 L658.0,101.2 L656.0,100.2 L654.0,99.2 L652.0,98.3 L650.0,97.3 L648.0,96.4 L646.0,95.4 L644.0,94.4 L642.0,93.5 L640.0,92.5 L638.0,91.6 L636.0,90.6 L634.0,89.7 L632.0,88.7 L630.0,87.8 L628.0,86.8 L626.0,85.9 L624.0,85.0 L622.0,84.1 L620.0,83.2 L618.0,82.3 L616.0,81.4 L614.0,80.5 L612.0,79.7 L610.0,78.8 L608.0,78.0 L606.0,77.2 L604.0,76.4 L602.0,75.6 L600.0,74.8 L598.0,74.1 L596.0,73.3 L594.0,72.6 L592.0,71.9 L590.0,71.2 L588.0,70.5 L586.0,69.9 L584.0,69.2 L582.0,68.6 L580.0,68.0 L578.0,67.4 L576.0,66.8 L574.0,66.2 L572.0,65.7 L570.0,65.2 L568.0,64.7 L566.0,64.2 L564.0,63.7 L562.0,63.3 L560.0,62.8 L558.0,62.4 L556.0,62.0 L554.0,61.6 L552.0,61.3 L550.0,61.0 L548.0,60.7 L546.0,60.4 L544.0,60.1 L542.0,59.8 L540.0,59.6 L538.0,59.4 L536.0,59.2 L534.0,59.1 L532.0,58.9 L530.0,58.8 L528.0,58.7 L526.0,58.6 L524.0,58.6 L522.0,58.5 L520.0,58.5 L518.0,58.5 L516.0,58.6 L514.0,58.6 L512.0,58.7 L510.0,58.8 L508.0,58.9 L506.0,59.1 L504.0,59.2 L502.0,59.4 L500.0,59.6 L498.0,59.8 L496.0,60.1 L494.0,60.4 L492.0,60.6 L490.0,61.0 L488.0,61.3 L486.0,61.6 L484.0,62.0 L482.0,62.4 L480.0,62.8 L478.0,63.2 L476.0,63.7 L474.0,64.1 L472.0,64.6 L470.0,65.1 L468.0,65.7 L466.0,66.2 L464.0,66.8 L462.0,67.4 L460.0,68.0 L458.0,68.6 L456.0,69.2 L454.0,69.9 L452.0,70.5 L450.0,71.2 L448.0,71.9 L446.0,72.7 L444.0,73.4 L442.0,74.2 L440.0,75.0 L438.0,75.8 L436.0,76.6 L434.0,77.4 L432.0,78.3 L430.0,79.2 L428.0,80.1 L426.0,81.0 L424.0,81.9 L422.0,82.9 L420.0,83.9 L418.0,84.9 L416.0,85.9 L414.0,87.0 L412.0,88.1 L410.0,89.2 L408.0,90.4 L406.0,91.6 L404.0,92.8 L402.0,94.0 L400.0,95.3 L398.0,96.6 L396.0,97.9 L394.0,99.3 L392.0,100.7 L390.0,102.1 L388.0,103.6 L386.0,105.1 L384.0,106.7 L382.0,108.3 L380.0,109.9 L378.0,111.6 L376.0,113.3 L374.0,115.0 L372.0,116.8 L370.0,118.6 L368.0,120.5 L366.0,122.4 L364.0,124.4 L362.0,126.4 L360.0,128.4 L358.0,130.5 L356.0,132.6 L354.0,134.8 L352.0,137.0 L350.0,139.3 L348.0,141.6 L346.0,143.9 L344.0,146.3 L342.0,148.7 L340.0,151.2 L338.0,153.7 L336.0,156.3 L334.0,158.9 L332.0,161.6 L330.0,164.3 L328.0,167.0 L326.0,169.8 L324.0,172.6 L322.0,175.5 L320.0,178.5 L318.0,181.5 L316.0,184.5 L314.0,187.6 L312.0,190.7 L310.0,193.9 L308.0,197.1 L306.0,200.4 L304.0,203.7 L302.0,207.1 L300.0,211.5" stroke="#2346F0" stroke-dashoffset="13.10"/>
<path d="M119.6,557.8 L141.7,574.0 L150.2,557.9 L162.2,540.0 L166.0,528.0 L170.6,514.4 L176.7,499.0 L178.3,492.0 L179.7,486.0 L181.2,480.0 L182.6,474.0 L184.0,468.0 L185.3,462.0 L186.6,456.0 L188.0,450.0 L189.3,444.0 L190.8,438.0 L192.4,432.0 L194.0,426.0 L195.6,420.0 L197.3,414.0 L198.9,408.0 L200.5,402.0 L202.1,396.0 L203.7,390.0 L205.1,384.0 L206.4,378.0 L207.6,372.0 L208.9,366.0 L214.5,338.0 L215.6,334.0 L227.5,329.4 L229.5,329.0 L234.7,341.5 L240.6,353.0 L254.0,360.5 L258.0,352.0 L262.0,337.0 L266.0,319.0 L269.5,302.0 L272.5,288.5 L276.5,275.0 L281.0,261.0 L286.0,247.0 L291.0,233.0 L296.0,220.5 L300.0,211.5" stroke="#2346F0"/>
<path d="M994.5,290.2 L996.0,290.9 L998.0,291.9 L1000.0,292.9 L1002.0,293.9 L1004.0,294.9 L1006.0,295.8 L1008.0,296.8 L1010.0,297.8 L1012.0,298.8 L1014.0,299.7 L1016.0,300.7 L1018.0,301.7 L1020.0,302.6 L1022.0,303.6 L1024.0,304.5 L1026.0,305.5 L1028.0,306.4 L1030.0,307.3 L1032.0,308.3 L1034.0,309.2 L1036.0,310.1 L1038.0,311.1 L1040.0,312.0 L1042.0,312.9 L1044.0,313.8 L1046.0,314.7 L1048.0,315.6 L1050.0,316.5 L1052.0,317.4 L1054.0,318.3 L1056.0,319.2 L1058.0,320.1 L1060.0,321.0 L1062.0,321.9 L1064.0,322.8 L1066.0,323.6 L1068.0,324.5 L1070.0,325.4 L1072.0,326.3 L1074.0,327.1 L1076.0,328.0 L1078.0,328.9 L1080.0,329.7 L1082.0,330.6 L1084.0,331.4 L1086.0,332.3 L1088.0,333.1 L1090.0,334.0 L1092.0,334.8 L1094.0,335.6 L1096.0,336.5 L1098.0,337.3 L1100.0,338.1 L1102.0,339.0 L1104.0,339.8 L1106.0,340.6 L1108.0,341.4 L1110.0,342.3 L1112.0,343.1 L1114.0,343.9 L1116.0,344.7 L1118.0,345.5 L1120.0,346.3 L1122.0,347.1 L1124.0,347.9 L1126.0,348.7 L1128.0,349.5 L1130.0,350.3 L1132.0,351.1 L1134.0,351.9 L1136.0,352.7 L1138.0,353.4 L1140.0,354.2 L1142.0,355.0 L1144.0,355.8 L1146.0,356.6 L1148.0,357.3 L1150.0,358.1 L1152.0,358.9 L1154.0,359.7 L1156.0,360.4 L1158.0,361.2 L1160.0,361.9 L1162.0,362.7 L1164.0,363.5 L1166.0,364.2 L1168.0,365.0 L1170.0,365.7 L1172.0,366.5 L1174.0,367.2 L1176.0,368.0 L1178.0,368.7 L1180.0,369.5 L1182.0,370.2 L1184.0,371.0 L1186.0,371.7 L1188.0,372.4 L1190.0,373.2 L1192.0,373.9 L1194.0,374.7 L1196.0,375.4 L1198.0,376.1 L1200.0,376.9 L1202.0,377.6 L1204.0,378.3 L1206.0,379.0 L1208.0,379.8 L1210.0,380.5 L1212.0,381.2 L1214.0,381.9 L1216.0,382.7 L1218.0,383.4 L1220.0,384.1 L1222.0,384.8 L1224.0,385.5 L1226.0,386.2 L1228.0,387.0 L1230.0,387.7 L1232.0,388.4 L1234.0,389.1 L1236.0,389.8 L1238.0,390.5 L1240.0,391.2 L1242.0,391.9 L1244.0,392.6 L1246.0,393.3 L1248.0,394.1 L1250.0,394.8 L1252.0,395.5 L1254.0,396.2 L1256.0,396.9 L1258.0,397.6 L1260.0,398.3 L1262.0,399.0 L1264.0,399.7 L1266.0,400.4 L1268.0,401.1 L1270.0,401.8 L1272.0,402.5 L1274.0,403.2 L1276.0,403.9 L1278.0,404.6 L1280.0,405.3 L1282.0,406.0 L1284.0,406.7 L1286.0,407.3 L1288.0,408.0 L1290.0,408.7 L1292.0,409.4 L1294.0,410.1 L1296.0,410.8 L1298.0,411.5 L1300.0,412.2 L1302.0,412.9 L1304.0,413.6 L1306.0,414.3 L1308.0,415.0 L1310.0,415.7 L1310.3,415.8" stroke="#2346F0"/>
<path d="M991.0,361.0 L990.0,360.5 L988.0,359.5 L986.0,358.5 L984.0,357.5 L982.0,356.5 L980.0,355.5 L978.0,354.5 L976.0,353.5 L974.0,352.5 L972.0,351.4 L970.0,350.4 L968.0,349.4 L966.0,348.3 L964.0,347.3 L962.0,346.2 L960.0,345.2 L958.0,344.1 L956.0,343.0 L954.0,342.0 L952.0,340.9 L950.0,339.8 L948.0,338.7 L946.0,337.6 L944.0,336.5 L942.0,335.4 L940.0,334.3 L938.0,333.2 L936.0,332.1 L934.0,331.0 L932.0,329.8 L930.0,328.7 L928.0,327.5 L926.0,326.4 L924.0,325.2 L922.0,324.1 L920.0,322.9 L918.0,321.8 L916.0,320.6 L914.0,319.4 L912.0,318.2 L910.0,317.0 L908.0,315.9 L906.0,314.7 L904.0,313.5 L902.0,312.3 L900.0,311.0 L898.0,309.8 L896.0,308.6 L894.0,307.4 L892.0,306.2 L890.0,304.9 L888.0,303.7 L886.0,302.5 L884.0,301.2 L882.0,300.0 L880.0,298.7 L878.0,297.5 L876.0,296.2 L874.0,294.9 L872.0,293.7 L870.0,292.4 L868.0,291.1 L866.0,289.8 L864.0,288.6 L862.0,287.3 L860.0,286.0 L858.0,284.7 L856.0,283.4 L854.0,282.1 L852.0,280.8 L850.0,279.5 L848.0,278.2 L846.0,276.9 L844.0,275.5 L842.0,274.2 L840.0,272.9 L838.0,271.6 L836.0,270.2 L834.0,268.9 L832.0,267.6 L830.0,266.2 L828.0,264.9 L826.0,263.5 L824.0,262.2 L822.0,260.8 L820.0,259.5 L818.0,258.1 L816.0,256.8 L814.0,255.4 L812.0,254.1 L810.0,252.7 L808.0,251.3 L806.0,249.9 L804.0,248.6 L802.0,247.2 L800.0,245.8 L798.0,244.4 L796.0,243.1 L794.0,241.7 L792.0,240.3 L790.0,238.9 L788.0,237.5 L786.0,236.1 L784.0,234.7 L782.0,233.3 L780.0,231.9 L778.0,230.5 L776.0,229.1 L774.0,227.7 L772.0,226.3 L770.0,224.9 L768.0,223.5 L766.0,222.1 L764.0,220.7 L762.0,219.3 L760.0,217.9 L758.0,216.5 L756.0,215.0 L754.0,213.6 L752.0,212.2 L750.0,210.8 L748.0,209.4 L746.0,208.0 L744.0,206.5 L742.0,205.1 L740.0,203.7 L738.0,202.3 L736.0,200.8 L734.0,199.4 L732.0,198.0 L730.0,196.6 L728.0,195.2 L726.0,193.7 L724.0,192.3 L722.0,190.9 L720.0,189.5 L718.0,188.0 L716.0,186.6 L714.0,185.2 L712.0,183.8 L710.0,182.4 L708.0,180.9 L706.0,179.5 L704.0,178.1 L702.0,176.7 L700.0,175.3 L698.0,173.9 L696.0,172.5 L694.0,171.1 L692.0,169.7 L690.0,168.3 L688.0,166.9 L686.0,165.5 L684.0,164.1 L682.0,162.7 L680.0,161.3 L678.0,159.9 L676.0,158.6 L674.0,157.2 L672.0,155.8 L670.0,154.5 L668.0,153.1 L666.0,151.7 L664.0,150.4 L662.0,149.0 L660.0,147.7 L658.0,146.3 L656.0,145.0 L654.0,143.7 L652.0,142.3 L650.0,141.0 L648.0,139.7 L646.0,138.4 L644.0,137.0 L642.0,135.7 L640.0,134.4 L638.0,133.1 L636.0,131.9 L634.0,130.6 L632.0,129.3 L630.0,128.0 L628.0,126.8 L626.0,125.5 L624.0,124.2 L622.0,123.0 L620.0,121.8 L618.0,120.5 L616.0,119.3 L614.0,118.1 L612.0,116.9 L610.0,115.7 L608.0,114.5 L606.0,113.3 L604.0,112.1 L602.0,110.9 L600.0,109.7 L598.0,108.6 L596.0,107.4 L594.0,106.3 L592.0,105.2 L590.0,104.0 L588.0,102.9 L586.0,101.8 L584.0,100.7 L582.0,99.7 L580.0,98.6 L578.0,97.6 L576.0,96.5 L574.0,95.5 L572.0,94.5 L570.0,93.5 L568.0,92.5 L566.0,91.6 L564.0,90.6 L562.0,89.7 L560.0,88.8 L558.0,87.9 L556.0,87.0 L554.0,86.2 L552.0,85.3 L550.0,84.5 L548.0,83.7 L546.0,82.9 L544.0,82.2 L542.0,81.4 L540.0,80.7 L538.0,80.0 L536.0,79.4 L534.0,78.7 L532.0,78.1 L530.0,77.5 L528.0,76.9 L526.0,76.4 L524.0,75.9 L522.0,75.4 L520.0,74.9 L518.0,74.4 L516.0,74.0 L514.0,73.6 L512.0,73.2 L510.0,72.8 L508.0,72.5 L506.0,72.2 L504.0,71.9 L502.0,71.6 L500.0,71.3 L498.0,71.1 L496.0,70.9 L494.0,70.8 L492.0,70.6 L490.0,70.5 L488.0,70.4 L486.0,70.3 L484.0,70.3 L482.0,70.2 L480.0,70.2 L478.0,70.3 L476.0,70.3 L474.0,70.4 L472.0,70.5 L470.0,70.6 L468.0,70.8 L466.0,71.0 L464.0,71.2 L462.0,71.4 L460.0,71.6 L458.0,71.9 L456.0,72.2 L454.0,72.6 L452.0,72.9 L450.0,73.3 L448.0,73.7 L446.0,74.2 L444.0,74.6 L442.0,75.1 L440.0,75.7 L438.0,76.2 L436.0,76.8 L434.0,77.5 L432.0,78.1 L430.0,78.8 L428.0,79.5 L426.0,80.3 L424.0,81.1 L422.0,81.9 L420.0,82.7 L418.0,83.6 L416.0,84.5 L414.0,85.5 L412.0,86.5 L410.0,87.5 L408.0,88.6 L406.0,89.7 L404.0,90.8 L402.0,92.0 L400.0,93.2 L398.0,94.5 L396.0,95.8 L394.0,97.1 L392.0,98.5 L390.0,99.9 L388.0,101.4 L386.0,102.9 L384.0,104.4 L382.0,106.0 L380.0,107.6 L378.0,109.3 L376.0,111.0 L374.0,112.7 L372.0,114.5 L370.0,116.4 L368.0,118.3 L366.0,120.2 L364.0,122.2 L362.0,124.2 L360.0,126.3 L358.0,128.4 L356.0,130.5 L354.0,132.7 L352.0,134.9 L350.0,137.2 L348.0,139.6 L346.0,141.9 L344.0,144.3 L342.0,146.8 L340.0,149.3 L338.0,151.8 L336.0,154.4 L334.0,157.1 L332.0,159.7 L330.0,162.4 L328.0,165.2 L326.0,168.0 L324.0,170.9 L322.0,173.8 L320.0,176.7 L318.0,179.7 L316.0,182.7 L314.0,185.8 L312.0,188.9 L310.0,192.0 L308.0,195.2 L306.0,198.4 L304.0,201.7 L302.0,205.1 L300.0,209.2" stroke="#7D0FF0" stroke-dashoffset="23.79"/>
<path d="M119.6,569.0 L141.8,582.7 L151.0,565.6 L163.0,549.3 L167.5,536.0 L172.0,523.0 L178.2,506.0 L180.3,499.0 L181.7,492.0 L182.9,486.0 L184.2,480.0 L185.5,474.0 L186.7,468.0 L187.9,462.0 L189.3,456.0 L190.6,450.0 L191.9,444.0 L193.3,438.0 L195.0,432.0 L196.5,426.0 L198.1,420.0 L199.6,414.0 L201.1,408.0 L202.7,402.0 L204.1,396.0 L205.6,390.0 L206.9,384.0 L208.1,378.0 L209.2,372.0 L210.4,366.0 L214.4,343.0 L227.5,333.7 L229.5,333.0 L234.0,347.5 L239.4,358.7 L254.3,369.0 L259.4,354.7 L263.0,337.0 L266.5,318.0 L269.0,302.0 L271.5,287.5 L275.5,274.0 L280.0,260.0 L285.0,246.0 L290.0,232.0 L295.0,219.5 L300.0,209.2" stroke="#7D0FF0"/>
<path d="M994.5,362.7 L996.0,363.4 L998.0,364.4 L1000.0,365.3 L1002.0,366.3 L1004.0,367.3 L1006.0,368.2 L1008.0,369.2 L1010.0,370.1 L1012.0,371.0 L1014.0,372.0 L1016.0,372.9 L1018.0,373.8 L1020.0,374.7 L1022.0,375.6 L1024.0,376.5 L1026.0,377.5 L1028.0,378.4 L1030.0,379.2 L1032.0,380.1 L1034.0,381.0 L1036.0,381.9 L1038.0,382.8 L1040.0,383.7 L1042.0,384.5 L1044.0,385.4 L1046.0,386.3 L1048.0,387.1 L1050.0,388.0 L1052.0,388.8 L1054.0,389.7 L1056.0,390.5 L1058.0,391.4 L1060.0,392.2 L1062.0,393.0 L1064.0,393.8 L1066.0,394.7 L1068.0,395.5 L1070.0,396.3 L1072.0,397.1 L1074.0,397.9 L1076.0,398.7 L1078.0,399.5 L1080.0,400.3 L1082.0,401.1 L1084.0,401.9 L1086.0,402.7 L1088.0,403.5 L1090.0,404.3 L1092.0,405.1 L1094.0,405.8 L1096.0,406.6 L1098.0,407.4 L1100.0,408.1 L1102.0,408.9 L1104.0,409.6 L1106.0,410.4 L1108.0,411.2 L1110.0,411.9 L1112.0,412.6 L1114.0,413.4 L1116.0,414.1 L1118.0,414.9 L1120.0,415.6 L1122.0,416.3 L1124.0,417.0 L1126.0,417.8 L1128.0,418.5 L1130.0,419.2 L1132.0,419.9 L1134.0,420.6 L1136.0,421.3 L1138.0,422.1 L1140.0,422.8 L1142.0,423.5 L1144.0,424.2 L1146.0,424.9 L1148.0,425.5 L1150.0,426.2 L1152.0,426.9 L1154.0,427.6 L1156.0,428.3 L1158.0,429.0 L1160.0,429.7 L1162.0,430.3 L1164.0,431.0 L1166.0,431.7 L1168.0,432.3 L1170.0,433.0 L1172.0,433.7 L1174.0,434.3 L1176.0,435.0 L1178.0,435.7 L1180.0,436.3 L1182.0,437.0 L1184.0,437.6 L1186.0,438.3 L1188.0,438.9 L1190.0,439.6 L1192.0,440.2 L1194.0,440.8 L1196.0,441.5 L1198.0,442.1 L1200.0,442.7 L1202.0,443.4 L1204.0,444.0 L1206.0,444.6 L1208.0,445.3 L1210.0,445.9 L1212.0,446.5 L1214.0,447.1 L1216.0,447.8 L1218.0,448.4 L1220.0,449.0 L1222.0,449.6 L1224.0,450.2 L1226.0,450.8 L1228.0,451.5 L1230.0,452.1 L1232.0,452.7 L1234.0,453.3 L1236.0,453.9 L1238.0,454.5 L1240.0,455.1 L1242.0,455.7 L1244.0,456.3 L1246.0,456.9 L1248.0,457.5 L1250.0,458.1 L1252.0,458.7 L1254.0,459.3 L1256.0,459.9 L1258.0,460.5 L1260.0,461.1 L1262.0,461.6 L1264.0,462.2 L1266.0,462.8 L1268.0,463.4 L1270.0,464.0 L1272.0,464.6 L1274.0,465.2 L1276.0,465.8 L1278.0,466.3 L1280.0,466.9 L1282.0,467.5 L1284.0,468.1 L1286.0,468.7 L1288.0,469.2 L1290.0,469.8 L1292.0,470.4 L1294.0,471.0 L1296.0,471.6 L1298.0,472.1 L1300.0,472.7 L1302.0,473.3 L1304.0,473.9 L1306.0,474.4 L1308.0,475.0 L1310.0,475.6 L1310.3,475.7" stroke="#7D0FF0"/>
<path d="M991.0,421.7 L990.0,421.3 L988.0,420.4 L986.0,419.5 L984.0,418.6 L982.0,417.7 L980.0,416.8 L978.0,415.9 L976.0,415.0 L974.0,414.0 L972.0,413.1 L970.0,412.2 L968.0,411.2 L966.0,410.3 L964.0,409.3 L962.0,408.3 L960.0,407.4 L958.0,406.4 L956.0,405.4 L954.0,404.4 L952.0,403.5 L950.0,402.5 L948.0,401.5 L946.0,400.4 L944.0,399.4 L942.0,398.4 L940.0,397.4 L938.0,396.3 L936.0,395.3 L934.0,394.2 L932.0,393.2 L930.0,392.1 L928.0,391.1 L926.0,390.0 L924.0,388.9 L922.0,387.8 L920.0,386.7 L918.0,385.6 L916.0,384.5 L914.0,383.4 L912.0,382.3 L910.0,381.1 L908.0,380.0 L906.0,378.9 L904.0,377.7 L902.0,376.6 L900.0,375.4 L898.0,374.2 L896.0,373.1 L894.0,371.9 L892.0,370.7 L890.0,369.5 L888.0,368.3 L886.0,367.1 L884.0,365.9 L882.0,364.7 L880.0,363.5 L878.0,362.2 L876.0,361.0 L874.0,359.8 L872.0,358.5 L870.0,357.3 L868.0,356.0 L866.0,354.7 L864.0,353.5 L862.0,352.2 L860.0,350.9 L858.0,349.6 L856.0,348.4 L854.0,347.1 L852.0,345.8 L850.0,344.5 L848.0,343.1 L846.0,341.8 L844.0,340.5 L842.0,339.2 L840.0,337.9 L838.0,336.5 L836.0,335.2 L834.0,333.8 L832.0,332.5 L830.0,331.1 L828.0,329.8 L826.0,328.4 L824.0,327.1 L822.0,325.7 L820.0,324.3 L818.0,322.9 L816.0,321.6 L814.0,320.2 L812.0,318.8 L810.0,317.4 L808.0,316.0 L806.0,314.6 L804.0,313.2 L802.0,311.8 L800.0,310.3 L798.0,308.9 L796.0,307.5 L794.0,306.1 L792.0,304.6 L790.0,303.2 L788.0,301.8 L786.0,300.3 L784.0,298.9 L782.0,297.4 L780.0,296.0 L778.0,294.5 L776.0,293.1 L774.0,291.6 L772.0,290.1 L770.0,288.7 L768.0,287.2 L766.0,285.7 L764.0,284.2 L762.0,282.8 L760.0,281.3 L758.0,279.8 L756.0,278.3 L754.0,276.8 L752.0,275.3 L750.0,273.8 L748.0,272.3 L746.0,270.8 L744.0,269.3 L742.0,267.8 L740.0,266.3 L738.0,264.8 L736.0,263.3 L734.0,261.8 L732.0,260.2 L730.0,258.7 L728.0,257.2 L726.0,255.7 L724.0,254.2 L722.0,252.6 L720.0,251.1 L718.0,249.6 L716.0,248.0 L714.0,246.5 L712.0,244.9 L710.0,243.4 L708.0,241.8 L706.0,240.3 L704.0,238.7 L702.0,237.2 L700.0,235.6 L698.0,234.0 L696.0,232.5 L694.0,230.9 L692.0,229.3 L690.0,227.7 L688.0,226.1 L686.0,224.5 L684.0,222.9 L682.0,221.3 L680.0,219.7 L678.0,218.1 L676.0,216.4 L674.0,214.8 L672.0,213.2 L670.0,211.5 L668.0,209.9 L666.0,208.2 L664.0,206.5 L662.0,204.9 L660.0,203.2 L658.0,201.5 L656.0,199.8 L654.0,198.1 L652.0,196.4 L650.0,194.7 L648.0,193.0 L646.0,191.2 L644.0,189.5 L642.0,187.8 L640.0,186.0 L638.0,184.3 L636.0,182.6 L634.0,180.8 L632.0,179.1 L630.0,177.4 L628.0,175.6 L626.0,173.9 L624.0,172.2 L622.0,170.4 L620.0,168.7 L618.0,167.0 L616.0,165.3 L614.0,163.6 L612.0,161.9 L610.0,160.2 L608.0,158.5 L606.0,156.8 L604.0,155.2 L602.0,153.5 L600.0,151.9 L598.0,150.3 L596.0,148.7 L594.0,147.1 L592.0,145.5 L590.0,143.9 L588.0,142.4 L586.0,140.8 L584.0,139.3 L582.0,137.8 L580.0,136.3 L578.0,134.9 L576.0,133.4 L574.0,132.0 L572.0,130.6 L570.0,129.2 L568.0,127.8 L566.0,126.4 L564.0,125.1 L562.0,123.7 L560.0,122.4 L558.0,121.2 L556.0,119.9 L554.0,118.7 L552.0,117.4 L550.0,116.2 L548.0,115.0 L546.0,113.9 L544.0,112.8 L542.0,111.6 L540.0,110.5 L538.0,109.5 L536.0,108.4 L534.0,107.4 L532.0,106.4 L530.0,105.4 L528.0,104.5 L526.0,103.6 L524.0,102.7 L522.0,101.8 L520.0,100.9 L518.0,100.1 L516.0,99.3 L514.0,98.5 L512.0,97.7 L510.0,97.0 L508.0,96.3 L506.0,95.6 L504.0,94.9 L502.0,94.3 L500.0,93.7 L498.0,93.1 L496.0,92.5 L494.0,92.0 L492.0,91.4 L490.0,90.9 L488.0,90.5 L486.0,90.0 L484.0,89.6 L482.0,89.2 L480.0,88.8 L478.0,88.5 L476.0,88.1 L474.0,87.8 L472.0,87.6 L470.0,87.3 L468.0,87.1 L466.0,86.9 L464.0,86.7 L462.0,86.6 L460.0,86.4 L458.0,86.3 L456.0,86.2 L454.0,86.2 L452.0,86.2 L450.0,86.2 L448.0,86.2 L446.0,86.3 L444.0,86.4 L442.0,86.5 L440.0,86.7 L438.0,86.9 L436.0,87.1 L434.0,87.4 L432.0,87.7 L430.0,88.0 L428.0,88.4 L426.0,88.8 L424.0,89.3 L422.0,89.8 L420.0,90.3 L418.0,90.9 L416.0,91.5 L414.0,92.2 L412.0,92.9 L410.0,93.7 L408.0,94.5 L406.0,95.3 L404.0,96.3 L402.0,97.2 L400.0,98.2 L398.0,99.3 L396.0,100.4 L394.0,101.6 L392.0,102.8 L390.0,104.1 L388.0,105.4 L386.0,106.8 L384.0,108.3 L382.0,109.8 L380.0,111.3 L378.0,112.9 L376.0,114.6 L374.0,116.4 L372.0,118.1 L370.0,120.0 L368.0,121.8 L366.0,123.7 L364.0,125.7 L362.0,127.7 L360.0,129.7 L358.0,131.8 L356.0,133.9 L354.0,136.0 L352.0,138.2 L350.0,140.4 L348.0,142.6 L346.0,144.8 L344.0,147.1 L342.0,149.4 L340.0,151.7 L338.0,154.1 L336.0,156.5 L334.0,159.1 L332.0,161.7 L330.0,164.5 L328.0,167.4 L326.0,170.5 L324.0,173.7 L322.0,177.0 L320.0,180.4 L318.0,183.8 L316.0,187.3 L314.0,190.8 L312.0,194.2 L310.0,197.7 L308.0,201.1 L306.0,204.5 L304.0,207.8 L302.0,211.0 L300.0,216.0" stroke="#808080" stroke-dashoffset="46.47"/>
<path d="M119.6,580.0 L142.0,592.0 L152.8,574.0 L164.7,556.2 L168.7,544.6 L173.7,530.0 L180.0,513.0 L183.0,499.0 L184.2,492.0 L185.5,486.0 L186.8,480.0 L188.2,474.0 L189.5,468.0 L190.8,462.0 L192.2,456.0 L193.7,450.0 L195.2,444.0 L196.7,438.0 L198.3,432.0 L199.8,426.0 L201.3,420.0 L202.7,414.0 L204.1,408.0 L205.5,402.0 L206.8,396.0 L208.1,390.0 L209.3,384.0 L210.3,378.0 L211.3,372.0 L212.4,366.0 L213.7,352.0 L226.9,342.5 L229.5,341.5 L234.0,355.0 L239.4,367.0 L254.0,378.5 L259.0,364.7 L263.5,349.0 L267.5,332.0 L270.5,317.0 L273.5,302.0 L276.5,290.0 L279.5,278.0 L283.0,266.0 L288.0,250.0 L293.0,235.0 L298.0,221.0 L300.0,216.0" stroke="#808080"/>
<path d="M994.5,423.3 L996.0,423.9 L998.0,424.8 L1000.0,425.6 L1002.0,426.5 L1004.0,427.3 L1006.0,428.2 L1008.0,429.0 L1010.0,429.9 L1012.0,430.7 L1014.0,431.5 L1016.0,432.3 L1018.0,433.1 L1020.0,434.0 L1022.0,434.8 L1024.0,435.6 L1026.0,436.4 L1028.0,437.1 L1030.0,437.9 L1032.0,438.7 L1034.0,439.5 L1036.0,440.3 L1038.0,441.0 L1040.0,441.8 L1042.0,442.6 L1044.0,443.3 L1046.0,444.1 L1048.0,444.8 L1050.0,445.5 L1052.0,446.3 L1054.0,447.0 L1056.0,447.7 L1058.0,448.5 L1060.0,449.2 L1062.0,449.9 L1064.0,450.6 L1066.0,451.3 L1068.0,452.0 L1070.0,452.7 L1072.0,453.4 L1074.0,454.1 L1076.0,454.8 L1078.0,455.5 L1080.0,456.2 L1082.0,456.8 L1084.0,457.5 L1086.0,458.2 L1088.0,458.9 L1090.0,459.5 L1092.0,460.2 L1094.0,460.8 L1096.0,461.5 L1098.0,462.1 L1100.0,462.8 L1102.0,463.4 L1104.0,464.1 L1106.0,464.7 L1108.0,465.3 L1110.0,466.0 L1112.0,466.6 L1114.0,467.2 L1116.0,467.8 L1118.0,468.5 L1120.0,469.1 L1122.0,469.7 L1124.0,470.3 L1126.0,470.9 L1128.0,471.5 L1130.0,472.1 L1132.0,472.7 L1134.0,473.3 L1136.0,473.9 L1138.0,474.5 L1140.0,475.1 L1142.0,475.7 L1144.0,476.3 L1146.0,476.8 L1148.0,477.4 L1150.0,478.0 L1152.0,478.6 L1154.0,479.1 L1156.0,479.7 L1158.0,480.3 L1160.0,480.8 L1162.0,481.4 L1164.0,482.0 L1166.0,482.5 L1168.0,483.1 L1170.0,483.6 L1172.0,484.2 L1174.0,484.7 L1176.0,485.3 L1178.0,485.8 L1180.0,486.4 L1182.0,486.9 L1184.0,487.5 L1186.0,488.0 L1188.0,488.6 L1190.0,489.1 L1192.0,489.6 L1194.0,490.2 L1196.0,490.7 L1198.0,491.2 L1200.0,491.8 L1202.0,492.3 L1204.0,492.8 L1206.0,493.4 L1208.0,493.9 L1210.0,494.4 L1212.0,494.9 L1214.0,495.4 L1216.0,496.0 L1218.0,496.5 L1220.0,497.0 L1222.0,497.5 L1224.0,498.0 L1226.0,498.6 L1228.0,499.1 L1230.0,499.6 L1232.0,500.1 L1234.0,500.6 L1236.0,501.1 L1238.0,501.7 L1240.0,502.2 L1242.0,502.7 L1244.0,503.2 L1246.0,503.7 L1248.0,504.2 L1250.0,504.7 L1252.0,505.2 L1254.0,505.7 L1256.0,506.2 L1258.0,506.8 L1260.0,507.3 L1262.0,507.8 L1264.0,508.3 L1266.0,508.8 L1268.0,509.3 L1270.0,509.8 L1272.0,510.3 L1274.0,510.8 L1276.0,511.3 L1278.0,511.8 L1280.0,512.4 L1282.0,512.9 L1284.0,513.4 L1286.0,513.9 L1288.0,514.4 L1290.0,514.9 L1292.0,515.4 L1294.0,515.9 L1296.0,516.4 L1298.0,517.0 L1300.0,517.5 L1302.0,518.0 L1304.0,518.5 L1306.0,519.0 L1308.0,519.5 L1310.0,520.1 L1310.3,520.1" stroke="#808080"/>
<path d="M991.0,469.3 L990.0,468.9 L988.0,468.1 L986.0,467.3 L984.0,466.6 L982.0,465.8 L980.0,465.0 L978.0,464.2 L976.0,463.4 L974.0,462.6 L972.0,461.7 L970.0,460.9 L968.0,460.1 L966.0,459.3 L964.0,458.4 L962.0,457.6 L960.0,456.7 L958.0,455.9 L956.0,455.0 L954.0,454.2 L952.0,453.3 L950.0,452.4 L948.0,451.5 L946.0,450.6 L944.0,449.8 L942.0,448.9 L940.0,448.0 L938.0,447.0 L936.0,446.1 L934.0,445.2 L932.0,444.3 L930.0,443.3 L928.0,442.4 L926.0,441.4 L924.0,440.5 L922.0,439.5 L920.0,438.6 L918.0,437.6 L916.0,436.6 L914.0,435.6 L912.0,434.6 L910.0,433.6 L908.0,432.6 L906.0,431.6 L904.0,430.6 L902.0,429.6 L900.0,428.6 L898.0,427.5 L896.0,426.5 L894.0,425.4 L892.0,424.4 L890.0,423.3 L888.0,422.2 L886.0,421.2 L884.0,420.1 L882.0,419.0 L880.0,417.9 L878.0,416.8 L876.0,415.7 L874.0,414.6 L872.0,413.4 L870.0,412.3 L868.0,411.2 L866.0,410.0 L864.0,408.9 L862.0,407.7 L860.0,406.6 L858.0,405.4 L856.0,404.2 L854.0,403.0 L852.0,401.8 L850.0,400.6 L848.0,399.4 L846.0,398.2 L844.0,397.0 L842.0,395.8 L840.0,394.6 L838.0,393.3 L836.0,392.1 L834.0,390.8 L832.0,389.6 L830.0,388.3 L828.0,387.0 L826.0,385.8 L824.0,384.5 L822.0,383.2 L820.0,381.9 L818.0,380.6 L816.0,379.3 L814.0,378.0 L812.0,376.6 L810.0,375.3 L808.0,374.0 L806.0,372.6 L804.0,371.3 L802.0,369.9 L800.0,368.5 L798.0,367.2 L796.0,365.8 L794.0,364.4 L792.0,363.0 L790.0,361.6 L788.0,360.2 L786.0,358.8 L784.0,357.4 L782.0,356.0 L780.0,354.5 L778.0,353.1 L776.0,351.6 L774.0,350.2 L772.0,348.7 L770.0,347.3 L768.0,345.8 L766.0,344.3 L764.0,342.8 L762.0,341.3 L760.0,339.8 L758.0,338.3 L756.0,336.8 L754.0,335.3 L752.0,333.8 L750.0,332.3 L748.0,330.7 L746.0,329.2 L744.0,327.7 L742.0,326.1 L740.0,324.6 L738.0,323.0 L736.0,321.4 L734.0,319.9 L732.0,318.3 L730.0,316.7 L728.0,315.1 L726.0,313.5 L724.0,312.0 L722.0,310.4 L720.0,308.8 L718.0,307.1 L716.0,305.5 L714.0,303.9 L712.0,302.3 L710.0,300.7 L708.0,299.0 L706.0,297.4 L704.0,295.8 L702.0,294.1 L700.0,292.5 L698.0,290.8 L696.0,289.2 L694.0,287.5 L692.0,285.9 L690.0,284.2 L688.0,282.5 L686.0,280.9 L684.0,279.2 L682.0,277.5 L680.0,275.8 L678.0,274.2 L676.0,272.5 L674.0,270.8 L672.0,269.1 L670.0,267.4 L668.0,265.7 L666.0,264.0 L664.0,262.2 L662.0,260.5 L660.0,258.8 L658.0,257.0 L656.0,255.2 L654.0,253.4 L652.0,251.6 L650.0,249.8 L648.0,248.0 L646.0,246.1 L644.0,244.2 L642.0,242.3 L640.0,240.4 L638.0,238.4 L636.0,236.5 L634.0,234.5 L632.0,232.5 L630.0,230.5 L628.0,228.4 L626.0,226.4 L624.0,224.4 L622.0,222.3 L620.0,220.3 L618.0,218.2 L616.0,216.2 L614.0,214.1 L612.0,212.1 L610.0,210.0 L608.0,208.0 L606.0,206.0 L604.0,203.9 L602.0,201.9 L600.0,199.9 L598.0,198.0 L596.0,196.0 L594.0,194.1 L592.0,192.2 L590.0,190.3 L588.0,188.4 L586.0,186.5 L584.0,184.7 L582.0,182.8 L580.0,181.0 L578.0,179.2 L576.0,177.4 L574.0,175.7 L572.0,173.9 L570.0,172.2 L568.0,170.5 L566.0,168.8 L564.0,167.1 L562.0,165.4 L560.0,163.8 L558.0,162.2 L556.0,160.6 L554.0,159.0 L552.0,157.4 L550.0,155.8 L548.0,154.3 L546.0,152.8 L544.0,151.2 L542.0,149.8 L540.0,148.3 L538.0,146.8 L536.0,145.4 L534.0,144.0 L532.0,142.6 L530.0,141.2 L528.0,139.9 L526.0,138.5 L524.0,137.2 L522.0,135.9 L520.0,134.6 L518.0,133.4 L516.0,132.1 L514.0,130.9 L512.0,129.7 L510.0,128.5 L508.0,127.4 L506.0,126.3 L504.0,125.1 L502.0,124.1 L500.0,123.0 L498.0,121.9 L496.0,120.9 L494.0,119.9 L492.0,118.9 L490.0,118.0 L488.0,117.1 L486.0,116.2 L484.0,115.3 L482.0,114.4 L480.0,113.6 L478.0,112.8 L476.0,112.0 L474.0,111.3 L472.0,110.6 L470.0,109.9 L468.0,109.3 L466.0,108.6 L464.0,108.1 L462.0,107.5 L460.0,107.0 L458.0,106.5 L456.0,106.0 L454.0,105.6 L452.0,105.2 L450.0,104.9 L448.0,104.6 L446.0,104.3 L444.0,104.0 L442.0,103.8 L440.0,103.7 L438.0,103.5 L436.0,103.5 L434.0,103.4 L432.0,103.4 L430.0,103.4 L428.0,103.5 L426.0,103.6 L424.0,103.8 L422.0,104.0 L420.0,104.2 L418.0,104.5 L416.0,104.8 L414.0,105.2 L412.0,105.6 L410.0,106.1 L408.0,106.6 L406.0,107.2 L404.0,107.8 L402.0,108.5 L400.0,109.3 L398.0,110.0 L396.0,110.9 L394.0,111.8 L392.0,112.7 L390.0,113.7 L388.0,114.8 L386.0,115.9 L384.0,117.1 L382.0,118.4 L380.0,119.7 L378.0,121.2 L376.0,122.8 L374.0,124.5 L372.0,126.6 L370.0,128.9 L368.0,131.3 L366.0,133.7 L364.0,136.1 L362.0,138.2 L360.0,140.0 L358.0,141.6 L356.0,143.1 L354.0,144.6 L352.0,146.1 L350.0,147.7 L348.0,149.5 L346.0,151.6 L344.0,154.0 L342.0,156.5 L340.0,159.2 L338.0,162.0 L336.0,164.8 L334.0,167.6 L332.0,170.5 L330.0,173.3 L328.0,176.2 L326.0,179.1 L324.0,182.0 L322.0,185.0 L320.0,187.9 L318.0,190.8 L316.0,193.8 L314.0,196.8 L312.0,199.9 L310.0,203.2 L308.0,206.6 L306.0,210.2 L304.0,214.1 L302.0,218.3 L300.0,222.7 L300.0,222.7" stroke="#404040" stroke-dashoffset="31.93"/>
<path d="M119.6,590.4 L142.3,600.3 L153.6,581.8 L165.6,564.7 L175.0,538.7 L180.0,521.0 L184.5,502.0 L188.7,482.0 L193.0,462.0 L197.0,446.0 L201.0,431.0 L204.5,416.0 L207.5,402.0 L210.5,387.0 L213.0,371.0 L214.8,360.0 L228.0,353.7 L229.5,353.0 L234.6,366.2 L240.0,377.5 L254.0,388.5 L259.4,374.6 L264.5,358.0 L268.5,341.0 L271.5,326.0 L274.5,310.0 L277.5,296.0 L280.0,284.0 L283.0,272.0 L288.7,252.5 L293.0,240.0 L298.0,227.5 L300.0,222.7" stroke="#404040"/>
<path d="M994.5,470.6 L996.0,471.2 L998.0,471.9 L1000.0,472.7 L1002.0,473.4 L1004.0,474.2 L1006.0,474.9 L1008.0,475.6 L1010.0,476.3 L1012.0,477.1 L1014.0,477.8 L1016.0,478.5 L1018.0,479.2 L1020.0,479.9 L1022.0,480.6 L1024.0,481.3 L1026.0,482.0 L1028.0,482.7 L1030.0,483.3 L1032.0,484.0 L1034.0,484.7 L1036.0,485.3 L1038.0,486.0 L1040.0,486.7 L1042.0,487.3 L1044.0,488.0 L1046.0,488.6 L1048.0,489.3 L1050.0,489.9 L1052.0,490.5 L1054.0,491.2 L1056.0,491.8 L1058.0,492.4 L1060.0,493.0 L1062.0,493.6 L1064.0,494.2 L1066.0,494.8 L1068.0,495.5 L1070.0,496.0 L1072.0,496.6 L1074.0,497.2 L1076.0,497.8 L1078.0,498.4 L1080.0,499.0 L1082.0,499.6 L1084.0,500.1 L1086.0,500.7 L1088.0,501.3 L1090.0,501.8 L1092.0,502.4 L1094.0,503.0 L1096.0,503.5 L1098.0,504.1 L1100.0,504.6 L1102.0,505.2 L1104.0,505.7 L1106.0,506.2 L1108.0,506.8 L1110.0,507.3 L1112.0,507.8 L1114.0,508.4 L1116.0,508.9 L1118.0,509.4 L1120.0,509.9 L1122.0,510.4 L1124.0,511.0 L1126.0,511.5 L1128.0,512.0 L1130.0,512.5 L1132.0,513.0 L1134.0,513.5 L1136.0,514.0 L1138.0,514.5 L1140.0,515.0 L1142.0,515.4 L1144.0,515.9 L1146.0,516.4 L1148.0,516.9 L1150.0,517.4 L1152.0,517.9 L1154.0,518.3 L1156.0,518.8 L1158.0,519.3 L1160.0,519.8 L1162.0,520.2 L1164.0,520.7 L1166.0,521.2 L1168.0,521.6 L1170.0,522.1 L1172.0,522.5 L1174.0,523.0 L1176.0,523.4 L1178.0,523.9 L1180.0,524.3 L1182.0,524.8 L1184.0,525.2 L1186.0,525.7 L1188.0,526.1 L1190.0,526.6 L1192.0,527.0 L1194.0,527.5 L1196.0,527.9 L1198.0,528.3 L1200.0,528.8 L1202.0,529.2 L1204.0,529.6 L1206.0,530.1 L1208.0,530.5 L1210.0,530.9 L1212.0,531.4 L1214.0,531.8 L1216.0,532.2 L1218.0,532.6 L1220.0,533.1 L1222.0,533.5 L1224.0,533.9 L1226.0,534.3 L1228.0,534.7 L1230.0,535.2 L1232.0,535.6 L1234.0,536.0 L1236.0,536.4 L1238.0,536.8 L1240.0,537.2 L1242.0,537.7 L1244.0,538.1 L1246.0,538.5 L1248.0,538.9 L1250.0,539.3 L1252.0,539.7 L1254.0,540.1 L1256.0,540.5 L1258.0,541.0 L1260.0,541.4 L1262.0,541.8 L1264.0,542.2 L1266.0,542.6 L1268.0,543.0 L1270.0,543.4 L1272.0,543.8 L1274.0,544.2 L1276.0,544.6 L1278.0,545.1 L1280.0,545.5 L1282.0,545.9 L1284.0,546.3 L1286.0,546.7 L1288.0,547.1 L1290.0,547.5 L1292.0,547.9 L1294.0,548.3 L1296.0,548.7 L1298.0,549.2 L1300.0,549.6 L1302.0,550.0 L1304.0,550.4 L1306.0,550.8 L1308.0,551.2 L1310.0,551.6 L1310.3,551.7" stroke="#404040"/>
</g>
<rect x="281.3" y="14.4" width="502.5" height="644.9" fill="rgba(0,255,0,0.1)"/>
<g stroke="#000" stroke-width="2.4" fill="none" stroke-linecap="butt">
<rect x="120.0" y="14.4" width="1190.3" height="644.9"/>
<path d="M182.3,659.3v-11.5M182.3,14.4v11.5M244.9,659.3v-5.6M244.9,14.4v5.6M307.6,659.3v-11.5M307.6,14.4v11.5M370.3,659.3v-5.6M370.3,14.4v5.6M432.9,659.3v-11.5M432.9,14.4v11.5M495.6,659.3v-5.6M495.6,14.4v5.6M558.3,659.3v-11.5M558.3,14.4v11.5M620.9,659.3v-5.6M620.9,14.4v5.6M683.6,659.3v-11.5M683.6,14.4v11.5M746.3,659.3v-5.6M746.3,14.4v5.6M809.0,659.3v-11.5M809.0,14.4v11.5M871.6,659.3v-5.6M871.6,14.4v5.6M934.3,659.3v-11.5M934.3,14.4v11.5M997.0,659.3v-5.6M997.0,14.4v5.6M1059.6,659.3v-11.5M1059.6,14.4v11.5M1122.3,659.3v-5.6M1122.3,14.4v5.6M1185.0,659.3v-11.5M1185.0,14.4v11.5M1247.6,659.3v-5.6M1247.6,14.4v5.6M1310.3,659.3v-11.5M1310.3,14.4v11.5M120.0,659.3h11.5M1310.3,659.3h-11.5M120.0,594.8h5.6M1310.3,594.8h-5.6M120.0,530.3h11.5M1310.3,530.3h-11.5M120.0,465.8h5.6M1310.3,465.8h-5.6M120.0,401.3h11.5M1310.3,401.3h-11.5M120.0,336.8h5.6M1310.3,336.8h-5.6M120.0,272.4h11.5M1310.3,272.4h-11.5M120.0,207.9h5.6M1310.3,207.9h-5.6M120.0,143.4h11.5M1310.3,143.4h-11.5M120.0,78.9h5.6M1310.3,78.9h-5.6M120.0,14.4h11.5M1310.3,14.4h-11.5"/>
</g>
<g font-size="27px">
<text x="182.3" y="692.7" text-anchor="middle">300</text>
<text x="307.6" y="692.7" text-anchor="middle">400</text>
<text x="432.9" y="692.7" text-anchor="middle">500</text>
<text x="558.3" y="692.7" text-anchor="middle">600</text>
<text x="683.6" y="692.7" text-anchor="middle">700</text>
<text x="809.0" y="692.7" text-anchor="middle">800</text>
<text x="934.3" y="692.7" text-anchor="middle">900</text>
<text x="1059.6" y="692.7" text-anchor="middle">1000</text>
<text x="1185.0" y="692.7" text-anchor="middle">1100</text>
<text x="1310.3" y="692.7" text-anchor="middle">1200</text>
<text x="106.3" y="667.1" text-anchor="end">0</text>
<text x="1323.3" y="667.1">0.0</text>
<text x="106.3" y="538.1" text-anchor="end">20</text>
<text x="1323.3" y="538.1">0.2</text>
<text x="106.3" y="409.1" text-anchor="end">40</text>
<text x="1323.3" y="409.1">0.4</text>
<text x="106.3" y="280.2" text-anchor="end">60</text>
<text x="1323.3" y="280.2">0.6</text>
<text x="106.3" y="151.2" text-anchor="end">80</text>
<text x="1323.3" y="151.2">0.8</text>
<text x="106.3" y="22.2" text-anchor="end">100</text>
<text x="1323.3" y="22.2">1.0</text>
</g>
<text x="714.9" y="746.4" font-size="35.9px" text-anchor="middle">Wavelength (nm)</text>
<text transform="translate(28.4,324) rotate(-90)" font-size="35.9px" text-anchor="middle">Transmittance (%)</text>
<text transform="translate(1404.6,337.6) rotate(-90)" font-size="33.65px" text-anchor="middle">Normalized Spectral Irradiance</text>
<g font-weight="bold" font-size="27.3px">
<text x="165.6" y="86">MoO<tspan font-size="17.5px" dy="7">3</tspan><tspan dy="-7">/</tspan><tspan fill="#1414D2">Ag</tspan>/MoO<tspan font-size="17.5px" dy="7">3</tspan></text>
<text x="206.6" y="126">10/<tspan fill="#1414D2" font-style="italic">d</tspan><tspan fill="#1414D2" font-style="italic" font-size="18px" dy="7">m</tspan><tspan dy="-7">/30</tspan></text>
</g>
<g fill="none" stroke-width="6.3" stroke-linecap="round" stroke-dasharray="17.7 14.4 0.01 14.4">
<path d="M333.4,344.6H394.3" stroke="#E8B038"/>
<path d="M333.4,384.7H394.3" stroke="#0E960E"/>
<path d="M333.4,424.8H394.3" stroke="#14A5F5"/>
<path d="M333.4,464.9H394.3" stroke="#2346F0"/>
<path d="M333.4,505.0H394.3" stroke="#7D0FF0"/>
<path d="M333.4,545.1H394.3" stroke="#808080"/>
<path d="M333.4,585.2H394.3" stroke="#404040"/>
</g>
<g font-weight="bold" font-size="26px">
<text y="352.6"><tspan x="401.5" font-style="italic">d</tspan><tspan font-style="italic" font-size="18px" dy="7">m</tspan><tspan x="436" dy="-7">=</tspan><tspan x="458.3">4</tspan><tspan x="479.4">nm</tspan></text>
<text y="392.7"><tspan x="401.5" font-style="italic">d</tspan><tspan font-style="italic" font-size="18px" dy="7">m</tspan><tspan x="436" dy="-7">=</tspan><tspan x="458.3">6</tspan><tspan x="479.4">nm</tspan></text>
<text y="432.8"><tspan x="401.5" font-style="italic">d</tspan><tspan font-style="italic" font-size="18px" dy="7">m</tspan><tspan x="436" dy="-7">=</tspan><tspan x="458.3">8</tspan><tspan x="479.4">nm</tspan></text>
<text y="472.9"><tspan x="401.5" font-style="italic">d</tspan><tspan font-style="italic" font-size="18px" dy="7">m</tspan><tspan x="436" dy="-7">=</tspan><tspan x="459.6">10</tspan><tspan x="493.3">nm</tspan></text>
<text y="513.0"><tspan x="401.5" font-style="italic">d</tspan><tspan font-style="italic" font-size="18px" dy="7">m</tspan><tspan x="436" dy="-7">=</tspan><tspan x="459.6">12</tspan><tspan x="493.3">nm</tspan></text>
<text y="553.1"><tspan x="401.5" font-style="italic">d</tspan><tspan font-style="italic" font-size="18px" dy="7">m</tspan><tspan x="436" dy="-7">=</tspan><tspan x="459.6">14</tspan><tspan x="493.3">nm</tspan></text>
<text y="593.2"><tspan x="401.5" font-style="italic">d</tspan><tspan font-style="italic" font-size="18px" dy="7">m</tspan><tspan x="436" dy="-7">=</tspan><tspan x="459.6">16</tspan><tspan x="493.3">nm</tspan></text>
</g>
<rect x="842.1" y="574.3" width="61.4" height="29.1" fill="rgba(0,255,0,0.1)" stroke="rgba(160,200,160,0.5)" stroke-width="0.8"/>
<rect x="842.1" y="608.8" width="61.4" height="29.1" fill="rgba(128,128,128,0.2)" stroke="rgba(128,128,128,0.15)" stroke-width="0.8"/>
<g font-weight="bold" font-size="27px"><text x="911" y="597.6">AVT region</text><text x="911" y="631.4">AM 1.5G spectral irradiance</text></g>
</svg></body></html>
